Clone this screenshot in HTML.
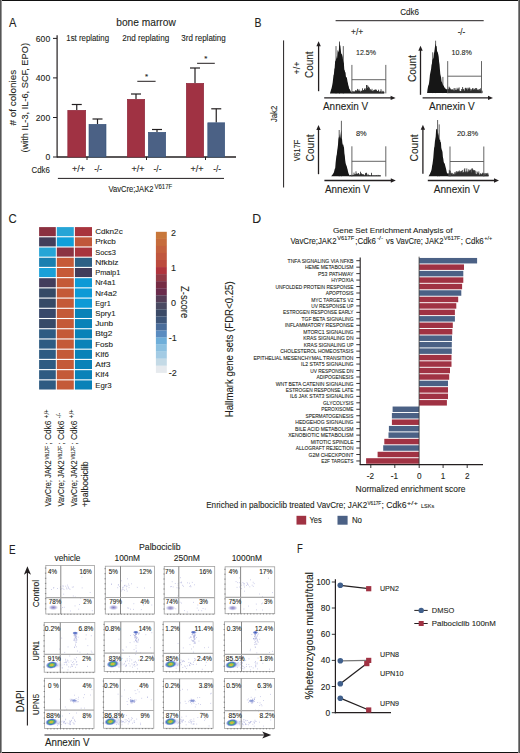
<!DOCTYPE html>
<html><head><meta charset="utf-8"><style>
html,body{margin:0;padding:0;background:#fff;}
svg{display:block;}
text{font-family:"Liberation Sans", sans-serif;fill:#231f20;stroke:#231f20;stroke-width:0.1px;}
</style></head><body>
<svg width="520" height="753" viewBox="0 0 520 753">
<rect width="520" height="753" fill="#fff"/>
<text x="8.90" y="27.00" font-size="12.4" textLength="7.40" lengthAdjust="spacingAndGlyphs" stroke-width="0.05">A</text>
<text x="146.00" y="26.30" font-size="10.5" text-anchor="middle" textLength="59.50" lengthAdjust="spacingAndGlyphs" >bone marrow</text>
<text x="66.30" y="41.40" font-size="8.3" textLength="42.70" lengthAdjust="spacingAndGlyphs" >1st replating</text>
<text x="122.30" y="41.40" font-size="8.3" textLength="46.90" lengthAdjust="spacingAndGlyphs" >2nd replating</text>
<text x="181.30" y="41.40" font-size="8.3" textLength="44.40" lengthAdjust="spacingAndGlyphs" >3rd replating</text>
<line x1="57.10" y1="35.20" x2="57.10" y2="157.50" stroke="#231f20" stroke-width="1.2"/>
<line x1="53.00" y1="38.40" x2="57.00" y2="38.40" stroke="#231f20" stroke-width="1"/>
<text x="50.20" y="41.50" font-size="8.6" text-anchor="end" >600</text>
<line x1="53.00" y1="77.90" x2="57.00" y2="77.90" stroke="#231f20" stroke-width="1"/>
<text x="50.20" y="81.00" font-size="8.6" text-anchor="end" >400</text>
<line x1="53.00" y1="117.50" x2="57.00" y2="117.50" stroke="#231f20" stroke-width="1"/>
<text x="50.20" y="120.60" font-size="8.6" text-anchor="end" >200</text>
<line x1="53.00" y1="157.00" x2="57.00" y2="157.00" stroke="#231f20" stroke-width="1"/>
<text x="50.20" y="160.10" font-size="8.6" text-anchor="end" >0</text>
<line x1="57.00" y1="157.00" x2="236.00" y2="157.00" stroke="#231f20" stroke-width="1.3"/>
<line x1="87.00" y1="157.00" x2="87.00" y2="160.00" stroke="#231f20" stroke-width="1"/>
<line x1="146.50" y1="157.00" x2="146.50" y2="160.00" stroke="#231f20" stroke-width="1"/>
<line x1="205.50" y1="157.00" x2="205.50" y2="160.00" stroke="#231f20" stroke-width="1"/>
<line x1="76.75" y1="110.00" x2="76.75" y2="104.50" stroke="#231f20" stroke-width="1.2"/>
<line x1="71.75" y1="104.50" x2="81.75" y2="104.50" stroke="#231f20" stroke-width="1.2"/>
<rect x="67.80" y="110.30" width="17.90" height="46.70" fill="#a03243" stroke="#8a2236" stroke-width="0.6"/>
<line x1="97.50" y1="124.00" x2="97.50" y2="119.00" stroke="#231f20" stroke-width="1.2"/>
<line x1="92.50" y1="119.00" x2="102.50" y2="119.00" stroke="#231f20" stroke-width="1.2"/>
<rect x="89.00" y="124.30" width="17.00" height="32.70" fill="#4b6185" stroke="#34507a" stroke-width="0.6"/>
<line x1="136.00" y1="99.00" x2="136.00" y2="94.00" stroke="#231f20" stroke-width="1.2"/>
<line x1="131.00" y1="94.00" x2="141.00" y2="94.00" stroke="#231f20" stroke-width="1.2"/>
<rect x="127.30" y="99.30" width="17.40" height="57.70" fill="#a03243" stroke="#8a2236" stroke-width="0.6"/>
<line x1="157.00" y1="132.00" x2="157.00" y2="129.50" stroke="#231f20" stroke-width="1.2"/>
<line x1="152.00" y1="129.50" x2="162.00" y2="129.50" stroke="#231f20" stroke-width="1.2"/>
<rect x="148.30" y="132.30" width="17.40" height="24.70" fill="#4b6185" stroke="#34507a" stroke-width="0.6"/>
<line x1="195.00" y1="83.00" x2="195.00" y2="68.00" stroke="#231f20" stroke-width="1.2"/>
<line x1="190.00" y1="68.00" x2="200.00" y2="68.00" stroke="#231f20" stroke-width="1.2"/>
<rect x="186.30" y="83.30" width="17.40" height="73.70" fill="#a03243" stroke="#8a2236" stroke-width="0.6"/>
<line x1="216.25" y1="122.50" x2="216.25" y2="108.80" stroke="#231f20" stroke-width="1.2"/>
<line x1="211.25" y1="108.80" x2="221.25" y2="108.80" stroke="#231f20" stroke-width="1.2"/>
<rect x="207.80" y="122.80" width="16.90" height="34.20" fill="#4b6185" stroke="#34507a" stroke-width="0.6"/>
<line x1="137.30" y1="81.30" x2="155.60" y2="81.30" stroke="#231f20" stroke-width="1"/>
<text x="146.50" y="78.50" font-size="8" text-anchor="middle" >*</text>
<line x1="197.10" y1="63.30" x2="214.80" y2="63.30" stroke="#231f20" stroke-width="1"/>
<text x="205.80" y="61.00" font-size="8" text-anchor="middle" >*</text>
<text x="31.50" y="173.00" font-size="8.6" textLength="18.30" lengthAdjust="spacingAndGlyphs" >Cdk6</text>
<text x="78.40" y="172.00" font-size="8.8" text-anchor="middle" textLength="13.00" lengthAdjust="spacingAndGlyphs" >+/+</text>
<text x="98.10" y="172.00" font-size="8.8" text-anchor="middle" textLength="7.80" lengthAdjust="spacingAndGlyphs" >-/-</text>
<text x="137.90" y="172.00" font-size="8.8" text-anchor="middle" textLength="13.00" lengthAdjust="spacingAndGlyphs" >+/+</text>
<text x="157.50" y="172.00" font-size="8.8" text-anchor="middle" textLength="7.80" lengthAdjust="spacingAndGlyphs" >-/-</text>
<text x="197.10" y="172.00" font-size="8.8" text-anchor="middle" textLength="13.00" lengthAdjust="spacingAndGlyphs" >+/+</text>
<text x="217.10" y="172.00" font-size="8.8" text-anchor="middle" textLength="7.80" lengthAdjust="spacingAndGlyphs" >-/-</text>
<line x1="57.90" y1="178.40" x2="224.00" y2="178.40" stroke="#231f20" stroke-width="1"/>
<text x="108.40" y="191.50" font-size="8.5" textLength="45.10" lengthAdjust="spacingAndGlyphs" >VavCre;JAK2</text>
<text x="154.40" y="189.00" font-size="6.6" textLength="17.80" lengthAdjust="spacingAndGlyphs" stroke-width="0.05" >V617F</text>
<text x="16.10" y="125.40" font-size="9.8" textLength="55.50" lengthAdjust="spacingAndGlyphs" transform="rotate(-90 16.10 125.40)" ># of colonies</text>
<text x="28.20" y="152.50" font-size="9.8" textLength="109.50" lengthAdjust="spacingAndGlyphs" transform="rotate(-90 28.20 152.50)" >(with IL-3, IL-6, SCF, EPO)</text>
<text x="254.50" y="27.00" font-size="12.4" textLength="7.00" lengthAdjust="spacingAndGlyphs" stroke-width="0.05">B</text>
<text x="400.20" y="15.00" font-size="8.4" textLength="18.80" lengthAdjust="spacingAndGlyphs" >Cdk6</text>
<line x1="335.60" y1="20.70" x2="483.70" y2="20.70" stroke="#231f20" stroke-width="1"/>
<text x="357.10" y="35.30" font-size="9.5" text-anchor="middle" textLength="12.20" lengthAdjust="spacingAndGlyphs" >+/+</text>
<text x="461.50" y="35.30" font-size="9.5" text-anchor="middle" textLength="7.70" lengthAdjust="spacingAndGlyphs" >-/-</text>
<line x1="283.60" y1="40.40" x2="283.60" y2="187.50" stroke="#231f20" stroke-width="1"/>
<text x="277.00" y="122.00" font-size="8.2" textLength="16.20" lengthAdjust="spacingAndGlyphs" transform="rotate(-90 277.00 122.00)" >Jak2</text>
<text x="300.20" y="74.40" font-size="9" textLength="13.00" lengthAdjust="spacingAndGlyphs" transform="rotate(-90 300.20 74.40)" >+/+</text>
<text x="299.80" y="161.30" font-size="8.2" textLength="21.50" lengthAdjust="spacingAndGlyphs" transform="rotate(-90 299.80 161.30)" >V617F</text>
<line x1="318.60" y1="91.20" x2="318.60" y2="45.20" stroke="#231f20" stroke-width="1.3"/>
<path d="M316.40 46.20 L318.60 41.20 L320.80 46.20 Z" fill="#231f20"/>
<line x1="324.20" y1="97.90" x2="391.60" y2="97.90" stroke="#231f20" stroke-width="1.3"/>
<path d="M390.60 95.70 L395.60 97.90 L390.60 100.10 Z" fill="#231f20"/>
<path d="M336.00 93.50V46.10M343.30 93.50V46.10M339.50 93.50V41.50" stroke="#3a3a3a" stroke-width="0.8"/>
<path d="M329.90 93.50 L329.90 93.50 L330.30 92.29 L330.70 91.05 L331.10 89.51 L331.50 88.38 L331.90 86.77 L332.30 84.64 L332.70 82.56 L333.10 78.69 L333.50 75.35 L333.90 74.23 L334.30 69.33 L334.70 67.67 L335.10 61.50 L335.50 61.00 L335.90 59.94 L336.30 55.70 L336.70 59.05 L337.10 57.89 L337.50 51.45 L337.90 49.70 L338.30 51.33 L338.70 52.42 L339.10 46.55 L339.50 41.72 L339.90 45.76 L340.30 45.24 L340.70 49.07 L341.10 52.65 L341.50 54.36 L341.90 54.06 L342.30 55.43 L342.70 57.02 L343.10 60.78 L343.50 62.33 L343.90 63.57 L344.30 69.51 L344.70 70.32 L345.10 72.23 L345.50 72.31 L345.90 76.46 L346.30 77.49 L346.70 77.03 L347.10 79.10 L347.50 81.43 L347.90 83.09 L348.30 85.19 L348.70 86.29 L349.10 88.49 L349.50 89.09 L349.90 89.61 L350.30 90.53 L350.70 91.39 L351.10 91.60 L351.50 91.73 L351.90 91.99 L352.00 93.50 Z" fill="#161616"/>
<path d="M352.00 93.50V92.31M352.50 93.50V91.15M353.00 93.50V92.09M353.50 93.50V91.28M354.00 93.50V91.77M354.50 93.50V91.52M355.00 93.50V91.41M355.50 93.50V90.22M356.00 93.50V90.65M356.50 93.50V90.54M357.00 93.50V91.24M357.50 93.50V88.91M358.00 93.50V89.99M358.50 93.50V90.89M359.00 93.50V89.30M359.50 93.50V90.81M360.00 93.50V90.89M360.50 93.50V92.10M361.00 93.50V90.69M361.50 93.50V90.80M362.00 93.50V91.07M362.50 93.50V88.30M363.00 93.50V90.40M363.50 93.50V90.14M364.00 93.50V90.09M364.50 93.50V88.95M365.00 93.50V88.02M365.50 93.50V90.00M366.00 93.50V88.93M366.50 93.50V85.02M367.00 93.50V85.04M367.50 93.50V87.95M368.00 93.50V85.81M368.50 93.50V87.05M369.00 93.50V88.74M369.50 93.50V87.57M370.00 93.50V90.36M370.50 93.50V89.22M371.00 93.50V90.50M371.50 93.50V90.38M372.00 93.50V88.84M372.50 93.50V90.87M373.00 93.50V91.55M373.50 93.50V90.48M374.00 93.50V90.02M374.50 93.50V90.12M375.00 93.50V89.45M375.50 93.50V89.62M376.00 93.50V90.31M376.50 93.50V89.69M377.00 93.50V91.01M377.50 93.50V91.02M378.00 93.50V91.32M378.50 93.50V89.73M379.00 93.50V90.85M379.50 93.50V91.89M380.00 93.50V91.89M380.50 93.50V91.23M381.00 93.50V89.22M381.50 93.50V92.30M382.00 93.50V90.90M382.50 93.50V92.10M383.00 93.50V90.88M383.50 93.50V91.59M384.00 93.50V91.83" stroke="#141414" stroke-width="0.75"/>
<line x1="351.90" y1="64.90" x2="351.90" y2="93.40" stroke="#555" stroke-width="0.9"/>
<line x1="385.80" y1="64.90" x2="385.80" y2="93.40" stroke="#555" stroke-width="0.9"/>
<line x1="351.90" y1="79.70" x2="385.80" y2="79.70" stroke="#555" stroke-width="0.9"/>
<text x="356.00" y="55.20" font-size="7.5" textLength="20.00" lengthAdjust="spacingAndGlyphs" >12.5%</text>
<text x="313.30" y="78.00" font-size="10" textLength="26.50" lengthAdjust="spacingAndGlyphs" transform="rotate(-90 313.30 78.00)" >Count</text>
<text x="323.00" y="110.00" font-size="10" textLength="45.20" lengthAdjust="spacingAndGlyphs" >Annexin V</text>
<line x1="420.50" y1="94.80" x2="420.50" y2="49.80" stroke="#231f20" stroke-width="1.3"/>
<path d="M418.30 50.80 L420.50 45.80 L422.70 50.80 Z" fill="#231f20"/>
<line x1="422.60" y1="97.90" x2="489.00" y2="97.90" stroke="#231f20" stroke-width="1.3"/>
<path d="M488.00 95.70 L493.00 97.90 L488.00 100.10 Z" fill="#231f20"/>
<path d="M432.70 93.10V52.30M435.60 93.10V40.70M442.90 93.10V76.90" stroke="#3a3a3a" stroke-width="0.8"/>
<path d="M427.10 93.10 L427.10 93.10 L427.50 89.56 L427.90 87.18 L428.30 85.39 L428.70 84.67 L429.10 82.52 L429.50 79.22 L429.90 75.01 L430.30 72.96 L430.70 70.99 L431.10 68.91 L431.50 65.09 L431.90 63.71 L432.30 60.45 L432.70 59.25 L433.10 58.86 L433.50 57.47 L433.90 53.73 L434.30 51.87 L434.70 49.01 L435.10 45.50 L435.50 43.54 L435.90 46.60 L436.30 45.78 L436.70 46.54 L437.10 52.00 L437.50 51.14 L437.90 53.12 L438.30 54.40 L438.70 56.65 L439.10 61.68 L439.50 64.21 L439.90 69.13 L440.30 73.99 L440.70 75.83 L441.10 77.59 L441.50 81.22 L441.90 82.02 L442.30 82.92 L442.70 84.21 L443.10 85.00 L443.50 85.84 L443.90 85.95 L444.30 87.26 L444.70 87.83 L445.10 87.76 L445.50 88.63 L445.90 88.89 L446.30 89.03 L446.70 89.38 L447.10 89.66 L447.10 93.10 Z" fill="#161616"/>
<path d="M447.10 93.10V89.39M447.60 93.10V89.39M448.10 93.10V88.78M448.60 93.10V89.26M449.10 93.10V86.69M449.60 93.10V87.65M450.10 93.10V88.18M450.60 93.10V89.20M451.10 93.10V89.39M451.60 93.10V89.85M452.10 93.10V89.14M452.60 93.10V89.79M453.10 93.10V89.53M453.60 93.10V90.41M454.10 93.10V88.10M454.60 93.10V90.51M455.10 93.10V88.28M455.60 93.10V89.94M456.10 93.10V90.36M456.60 93.10V89.68M457.10 93.10V87.81M457.60 93.10V89.13M458.10 93.10V90.14M458.60 93.10V88.49M459.10 93.10V87.41M459.60 93.10V90.69M460.10 93.10V90.97M460.60 93.10V91.13M461.10 93.10V91.14M461.60 93.10V89.06M462.10 93.10V90.64M462.60 93.10V87.05M463.10 93.10V88.91M463.60 93.10V89.19M464.10 93.10V90.56M464.60 93.10V90.73M465.10 93.10V88.39M465.60 93.10V87.84M466.10 93.10V87.87M466.60 93.10V89.07M467.10 93.10V88.40M467.60 93.10V90.24M468.10 93.10V87.64M468.60 93.10V88.63M469.10 93.10V88.90M469.60 93.10V87.50M470.10 93.10V88.73M470.60 93.10V90.68M471.10 93.10V89.29M471.60 93.10V90.37M472.10 93.10V89.06M472.60 93.10V88.18M473.10 93.10V88.27M473.60 93.10V89.84M474.10 93.10V89.43M474.60 93.10V88.76M475.10 93.10V90.14M475.60 93.10V88.03M476.10 93.10V89.24M476.60 93.10V87.99M477.10 93.10V90.15M477.60 93.10V89.81M478.10 93.10V89.14M478.60 93.10V90.08M479.10 93.10V90.60M479.60 93.10V88.97M480.10 93.10V90.39M480.60 93.10V88.31M481.10 93.10V90.31M481.60 93.10V91.27M482.10 93.10V90.68" stroke="#141414" stroke-width="0.75"/>
<line x1="447.70" y1="61.10" x2="447.70" y2="93.10" stroke="#555" stroke-width="0.9"/>
<line x1="481.50" y1="61.10" x2="481.50" y2="93.10" stroke="#555" stroke-width="0.9"/>
<line x1="447.70" y1="76.20" x2="481.50" y2="76.20" stroke="#555" stroke-width="0.9"/>
<text x="451.50" y="54.90" font-size="7.5" textLength="20.30" lengthAdjust="spacingAndGlyphs" >10.8%</text>
<text x="416.00" y="82.10" font-size="10" textLength="26.90" lengthAdjust="spacingAndGlyphs" transform="rotate(-90 416.00 82.10)" >Count</text>
<text x="429.00" y="110.00" font-size="10" textLength="45.80" lengthAdjust="spacingAndGlyphs" >Annexin V</text>
<line x1="318.50" y1="174.20" x2="318.50" y2="129.00" stroke="#231f20" stroke-width="1.3"/>
<path d="M316.30 130.00 L318.50 125.00 L320.70 130.00 Z" fill="#231f20"/>
<line x1="324.40" y1="180.50" x2="391.80" y2="180.50" stroke="#231f20" stroke-width="1.3"/>
<path d="M390.80 178.30 L395.80 180.50 L390.80 182.70 Z" fill="#231f20"/>
<path d="M339.20 176.30V130.00M341.40 176.30V120.80" stroke="#3a3a3a" stroke-width="0.8"/>
<path d="M331.20 176.30 L331.20 176.30 L331.60 175.78 L332.00 175.23 L332.40 174.76 L332.80 174.25 L333.20 173.50 L333.60 172.91 L334.00 172.04 L334.40 170.19 L334.80 168.73 L335.20 168.37 L335.60 162.91 L336.00 159.26 L336.40 156.10 L336.80 154.59 L337.20 150.61 L337.60 147.98 L338.00 144.71 L338.40 139.30 L338.80 137.23 L339.20 137.28 L339.60 133.85 L340.00 138.85 L340.40 136.49 L340.80 133.23 L341.20 129.98 L341.60 138.52 L342.00 138.80 L342.40 143.04 L342.80 144.67 L343.20 144.52 L343.60 146.37 L344.00 147.59 L344.40 153.19 L344.80 155.73 L345.20 160.28 L345.60 163.06 L346.00 164.60 L346.40 165.50 L346.80 166.46 L347.20 168.33 L347.60 169.43 L348.00 171.44 L348.40 173.06 L348.80 174.02 L349.20 174.85 L349.50 176.30 Z" fill="#161616"/>
<path d="M349.50 176.30V175.33M350.00 176.30V175.13M350.50 176.30V175.04M351.00 176.30V174.89M351.50 176.30V175.05M352.00 176.30V174.88M352.50 176.30V174.84M353.00 176.30V175.00M353.50 176.30V174.89M354.00 176.30V172.65M354.50 176.30V174.53M355.00 176.30V174.13M355.50 176.30V174.25M356.00 176.30V171.32M356.50 176.30V173.53M357.00 176.30V174.08M357.50 176.30V174.09M358.00 176.30V173.21M358.50 176.30V173.09M359.00 176.30V174.68M359.50 176.30V174.70M360.00 176.30V173.89M360.50 176.30V171.71M361.00 176.30V174.22M361.50 176.30V173.31M362.00 176.30V174.30M362.50 176.30V174.24M363.00 176.30V174.57M363.50 176.30V174.29M364.00 176.30V175.02M364.50 176.30V175.31M365.00 176.30V174.65M365.50 176.30V173.27M366.00 176.30V172.87M366.50 176.30V172.81M367.00 176.30V175.22M367.50 176.30V175.33M368.00 176.30V173.87M368.50 176.30V175.04M369.00 176.30V175.42M369.50 176.30V175.12M370.00 176.30V175.32M370.50 176.30V175.32M371.00 176.30V175.38M371.50 176.30V172.82M372.00 176.30V174.99M372.50 176.30V175.44M373.00 176.30V175.43M373.50 176.30V175.26M374.00 176.30V175.50M374.50 176.30V175.35M375.00 176.30V175.25M375.50 176.30V175.49M376.00 176.30V175.07M376.50 176.30V175.24M377.00 176.30V175.50M377.50 176.30V175.47M378.00 176.30V174.90M378.50 176.30V175.39M379.00 176.30V175.08M379.50 176.30V175.34M380.00 176.30V175.38M380.50 176.30V175.40" stroke="#141414" stroke-width="0.75"/>
<line x1="351.90" y1="146.30" x2="351.90" y2="176.50" stroke="#555" stroke-width="0.9"/>
<line x1="385.80" y1="146.30" x2="385.80" y2="176.50" stroke="#555" stroke-width="0.9"/>
<line x1="351.90" y1="161.30" x2="385.80" y2="161.30" stroke="#555" stroke-width="0.9"/>
<text x="356.00" y="135.80" font-size="7.5" textLength="10.70" lengthAdjust="spacingAndGlyphs" >8%</text>
<text x="313.80" y="161.40" font-size="10" textLength="27.00" lengthAdjust="spacingAndGlyphs" transform="rotate(-90 313.80 161.40)" >Count</text>
<text x="324.90" y="193.00" font-size="10" textLength="44.90" lengthAdjust="spacingAndGlyphs" >Annexin V</text>
<line x1="422.90" y1="173.80" x2="422.90" y2="128.80" stroke="#231f20" stroke-width="1.3"/>
<path d="M420.70 129.80 L422.90 124.80 L425.10 129.80 Z" fill="#231f20"/>
<line x1="427.80" y1="180.50" x2="495.00" y2="180.50" stroke="#231f20" stroke-width="1.3"/>
<path d="M494.00 178.30 L499.00 180.50 L494.00 182.70 Z" fill="#231f20"/>
<path d="M437.60 176.30V120.00M439.20 176.30V124.40" stroke="#3a3a3a" stroke-width="0.8"/>
<path d="M428.50 176.30 L428.50 176.30 L428.90 175.63 L429.30 175.02 L429.70 174.31 L430.10 173.47 L430.50 172.42 L430.90 171.64 L431.30 170.43 L431.70 168.99 L432.10 165.85 L432.50 164.03 L432.90 161.06 L433.30 157.72 L433.70 152.52 L434.10 147.89 L434.50 146.31 L434.90 141.56 L435.30 138.98 L435.70 136.48 L436.10 129.82 L436.50 128.78 L436.90 129.37 L437.30 129.50 L437.70 132.94 L438.10 135.58 L438.50 132.46 L438.90 137.46 L439.30 139.38 L439.70 139.90 L440.10 139.51 L440.50 142.51 L440.90 141.79 L441.30 147.71 L441.70 149.58 L442.10 150.43 L442.50 151.95 L442.90 156.97 L443.30 158.67 L443.70 161.87 L444.10 162.90 L444.50 163.28 L444.90 164.28 L445.30 165.94 L445.70 167.43 L446.10 168.91 L446.50 170.89 L446.90 172.73 L447.30 172.93 L447.70 173.61 L448.10 174.46 L448.30 176.30 Z" fill="#161616"/>
<path d="M448.30 176.30V174.05M448.80 176.30V172.98M449.30 176.30V169.88M449.80 176.30V171.21M450.30 176.30V170.70M450.80 176.30V172.89M451.30 176.30V173.77M451.80 176.30V172.82M452.30 176.30V174.62M452.80 176.30V173.13M453.30 176.30V174.18M453.80 176.30V174.24M454.30 176.30V174.46M454.80 176.30V172.28M455.30 176.30V172.43M455.80 176.30V174.15M456.30 176.30V171.11M456.80 176.30V172.51M457.30 176.30V171.46M457.80 176.30V172.35M458.30 176.30V171.49M458.80 176.30V171.51M459.30 176.30V170.46M459.80 176.30V172.16M460.30 176.30V171.23M460.80 176.30V172.44M461.30 176.30V170.99M461.80 176.30V171.34M462.30 176.30V169.98M462.80 176.30V172.82M463.30 176.30V171.90M463.80 176.30V172.42M464.30 176.30V169.39M464.80 176.30V168.24M465.30 176.30V171.58M465.80 176.30V172.48M466.30 176.30V171.37M466.80 176.30V168.46M467.30 176.30V172.44M467.80 176.30V171.47M468.30 176.30V171.63M468.80 176.30V169.30M469.30 176.30V170.32M469.80 176.30V171.12M470.30 176.30V170.00M470.80 176.30V169.52M471.30 176.30V172.40M471.80 176.30V168.65M472.30 176.30V168.33M472.80 176.30V169.64M473.30 176.30V169.88M473.80 176.30V170.69M474.30 176.30V170.43M474.80 176.30V170.05M475.30 176.30V173.52M475.80 176.30V171.12M476.30 176.30V174.13M476.80 176.30V174.12M477.30 176.30V171.69M477.80 176.30V173.27M478.30 176.30V173.15M478.80 176.30V171.46M479.30 176.30V174.75M479.80 176.30V174.56M480.30 176.30V173.22M480.80 176.30V173.70M481.30 176.30V174.40M481.80 176.30V174.14M482.30 176.30V173.25M482.80 176.30V172.68M483.30 176.30V173.61M483.80 176.30V173.07M484.30 176.30V174.52M484.80 176.30V173.26M485.30 176.30V174.78M485.80 176.30V173.14M486.30 176.30V173.71M486.80 176.30V173.23M487.30 176.30V174.33M487.80 176.30V172.87M488.30 176.30V174.57" stroke="#141414" stroke-width="0.75"/>
<line x1="450.00" y1="146.50" x2="450.00" y2="176.50" stroke="#555" stroke-width="0.9"/>
<line x1="483.80" y1="146.50" x2="483.80" y2="176.50" stroke="#555" stroke-width="0.9"/>
<line x1="450.00" y1="161.50" x2="483.80" y2="161.50" stroke="#555" stroke-width="0.9"/>
<text x="456.90" y="135.70" font-size="7.5" textLength="21.30" lengthAdjust="spacingAndGlyphs" >20.8%</text>
<text x="417.70" y="161.40" font-size="10" textLength="27.00" lengthAdjust="spacingAndGlyphs" transform="rotate(-90 417.70 161.40)" >Count</text>
<text x="433.80" y="193.00" font-size="10" textLength="45.80" lengthAdjust="spacingAndGlyphs" >Annexin V</text>
<text x="8.50" y="223.10" font-size="12.6" textLength="8.20" lengthAdjust="spacingAndGlyphs" stroke-width="0.05">C</text>
<rect x="39.10" y="227.10" width="16.70" height="9.10" fill="#8b3040" />
<rect x="56.80" y="227.10" width="17.00" height="9.10" fill="#26a5d6" />
<rect x="74.90" y="227.10" width="17.10" height="9.10" fill="#a8343d" />
<text x="95.20" y="234.20" font-size="8" textLength="27.50" lengthAdjust="spacingAndGlyphs" >Cdkn2c</text>
<rect x="39.10" y="237.32" width="16.70" height="9.10" fill="#433e5a" />
<rect x="56.80" y="237.32" width="17.00" height="9.10" fill="#109fd9" />
<rect x="74.90" y="237.32" width="17.10" height="9.10" fill="#c0573a" />
<text x="95.20" y="244.42" font-size="8" textLength="20.60" lengthAdjust="spacingAndGlyphs" >Prkcb</text>
<rect x="39.10" y="247.54" width="16.70" height="9.10" fill="#26a5d6" />
<rect x="56.80" y="247.54" width="17.00" height="9.10" fill="#8b3343" />
<rect x="74.90" y="247.54" width="17.10" height="9.10" fill="#a8343d" />
<text x="95.20" y="254.64" font-size="8" textLength="20.60" lengthAdjust="spacingAndGlyphs" >Socs3</text>
<rect x="39.10" y="257.76" width="16.70" height="9.10" fill="#1a7fb0" />
<rect x="56.80" y="257.76" width="17.00" height="9.10" fill="#c65a38" />
<rect x="74.90" y="257.76" width="17.10" height="9.10" fill="#2d6085" />
<text x="95.20" y="264.86" font-size="8" textLength="23.30" lengthAdjust="spacingAndGlyphs" >Nfkbiz</text>
<rect x="39.10" y="267.98" width="16.70" height="9.10" fill="#1aa0d8" />
<rect x="56.80" y="267.98" width="17.00" height="9.10" fill="#c65a38" />
<rect x="74.90" y="267.98" width="17.10" height="9.10" fill="#423c5a" />
<text x="95.20" y="275.08" font-size="8" textLength="25.20" lengthAdjust="spacingAndGlyphs" >Pmaip1</text>
<rect x="39.10" y="278.20" width="16.70" height="9.10" fill="#433d5c" />
<rect x="56.80" y="278.20" width="17.00" height="9.10" fill="#c45a38" />
<rect x="74.90" y="278.20" width="17.10" height="9.10" fill="#0e9ad6" />
<text x="95.20" y="285.30" font-size="8" textLength="20.40" lengthAdjust="spacingAndGlyphs" >Nr4a1</text>
<rect x="39.10" y="288.42" width="16.70" height="9.10" fill="#354a66" />
<rect x="56.80" y="288.42" width="17.00" height="9.10" fill="#c45a38" />
<rect x="74.90" y="288.42" width="17.10" height="9.10" fill="#0e9ad6" />
<text x="95.20" y="295.52" font-size="8" textLength="21.70" lengthAdjust="spacingAndGlyphs" >Nr4a2</text>
<rect x="39.10" y="298.64" width="16.70" height="9.10" fill="#364a66" />
<rect x="56.80" y="298.64" width="17.00" height="9.10" fill="#c45a38" />
<rect x="74.90" y="298.64" width="17.10" height="9.10" fill="#0e9ad6" />
<text x="95.20" y="305.74" font-size="8" textLength="15.60" lengthAdjust="spacingAndGlyphs" >Egr1</text>
<rect x="39.10" y="308.86" width="16.70" height="9.10" fill="#37486a" />
<rect x="56.80" y="308.86" width="17.00" height="9.10" fill="#c45a38" />
<rect x="74.90" y="308.86" width="17.10" height="9.10" fill="#0a82b8" />
<text x="95.20" y="315.96" font-size="8" textLength="20.40" lengthAdjust="spacingAndGlyphs" >Spry1</text>
<rect x="39.10" y="319.08" width="16.70" height="9.10" fill="#374a68" />
<rect x="56.80" y="319.08" width="17.00" height="9.10" fill="#c45a38" />
<rect x="74.90" y="319.08" width="17.10" height="9.10" fill="#0a82b8" />
<text x="95.20" y="326.18" font-size="8" textLength="17.90" lengthAdjust="spacingAndGlyphs" >Junb</text>
<rect x="39.10" y="329.30" width="16.70" height="9.10" fill="#2e5b82" />
<rect x="56.80" y="329.30" width="17.00" height="9.10" fill="#c45a38" />
<rect x="74.90" y="329.30" width="17.10" height="9.10" fill="#0a82b8" />
<text x="95.20" y="336.40" font-size="8" textLength="17.10" lengthAdjust="spacingAndGlyphs" >Btg2</text>
<rect x="39.10" y="339.52" width="16.70" height="9.10" fill="#2e5b82" />
<rect x="56.80" y="339.52" width="17.00" height="9.10" fill="#c45a38" />
<rect x="74.90" y="339.52" width="17.10" height="9.10" fill="#0a82b8" />
<text x="95.20" y="346.62" font-size="8" textLength="17.90" lengthAdjust="spacingAndGlyphs" >Fosb</text>
<rect x="39.10" y="349.74" width="16.70" height="9.10" fill="#2e5b82" />
<rect x="56.80" y="349.74" width="17.00" height="9.10" fill="#c45a38" />
<rect x="74.90" y="349.74" width="17.10" height="9.10" fill="#0a82b8" />
<text x="95.20" y="356.84" font-size="8" textLength="13.60" lengthAdjust="spacingAndGlyphs" >Klf6</text>
<rect x="39.10" y="359.96" width="16.70" height="9.10" fill="#2e5b82" />
<rect x="56.80" y="359.96" width="17.00" height="9.10" fill="#c45a38" />
<rect x="74.90" y="359.96" width="17.10" height="9.10" fill="#0a82b8" />
<text x="95.20" y="367.06" font-size="8" textLength="15.20" lengthAdjust="spacingAndGlyphs" >Atf3</text>
<rect x="39.10" y="370.18" width="16.70" height="9.10" fill="#2e5b82" />
<rect x="56.80" y="370.18" width="17.00" height="9.10" fill="#c45a38" />
<rect x="74.90" y="370.18" width="17.10" height="9.10" fill="#0a82b8" />
<text x="95.20" y="377.28" font-size="8" textLength="13.60" lengthAdjust="spacingAndGlyphs" >Klf4</text>
<rect x="39.10" y="380.40" width="16.70" height="9.10" fill="#2e5b82" />
<rect x="56.80" y="380.40" width="17.00" height="9.10" fill="#c45a38" />
<rect x="74.90" y="380.40" width="17.10" height="9.10" fill="#0a82b8" />
<text x="95.20" y="387.50" font-size="8" textLength="16.50" lengthAdjust="spacingAndGlyphs" >Egr3</text>
<rect x="155.90" y="231.80" width="10.90" height="7.15" fill="#c8773a" />
<rect x="155.90" y="238.85" width="10.90" height="7.15" fill="#c66c3c" />
<rect x="155.90" y="245.90" width="10.90" height="7.15" fill="#c4613e" />
<rect x="155.90" y="252.95" width="10.90" height="7.15" fill="#c0573e" />
<rect x="155.90" y="260.00" width="10.90" height="7.15" fill="#bc4b3e" />
<rect x="155.90" y="267.05" width="10.90" height="7.15" fill="#b0343d" />
<rect x="155.90" y="274.10" width="10.90" height="7.15" fill="#923a46" />
<rect x="155.90" y="281.15" width="10.90" height="7.15" fill="#762c44" />
<rect x="155.90" y="288.20" width="10.90" height="7.15" fill="#6a2c4c" />
<rect x="155.90" y="295.25" width="10.90" height="7.15" fill="#553e58" />
<rect x="155.90" y="302.30" width="10.90" height="7.15" fill="#4a4a62" />
<rect x="155.90" y="309.35" width="10.90" height="7.15" fill="#3b4a66" />
<rect x="155.90" y="316.40" width="10.90" height="7.15" fill="#3e5679" />
<rect x="155.90" y="323.45" width="10.90" height="7.15" fill="#4a6d9a" />
<rect x="155.90" y="330.50" width="10.90" height="7.15" fill="#5a8cc0" />
<rect x="155.90" y="337.55" width="10.90" height="7.15" fill="#6eaed9" />
<rect x="155.90" y="344.60" width="10.90" height="7.15" fill="#8cc0e0" />
<rect x="155.90" y="351.65" width="10.90" height="7.15" fill="#a3cbe4" />
<rect x="155.90" y="358.70" width="10.90" height="7.15" fill="#c4dae6" />
<rect x="155.90" y="365.75" width="10.90" height="7.15" fill="#e6eaee" />
<text x="171.10" y="235.70" font-size="9" >2</text>
<text x="171.10" y="270.50" font-size="9" >1</text>
<text x="171.10" y="305.80" font-size="9" >0</text>
<text x="168.80" y="341.10" font-size="9" >-1</text>
<text x="168.80" y="376.20" font-size="9" >-2</text>
<text x="180.90" y="286.00" font-size="11" textLength="32.30" lengthAdjust="spacingAndGlyphs" transform="rotate(90 180.90 286.00)" >Z-score</text>
<text x="51.20" y="506.40" font-size="8.6" textLength="46.10" lengthAdjust="spacingAndGlyphs" transform="rotate(-90 51.20 506.40)" >VavCre; JAK2</text>
<text x="49.30" y="459.60" font-size="5.6" textLength="13.80" lengthAdjust="spacingAndGlyphs" stroke-width="0.05" transform="rotate(-90 49.30 459.60)" >V617F</text>
<text x="51.20" y="444.60" font-size="8.6" textLength="24.00" lengthAdjust="spacingAndGlyphs" transform="rotate(-90 51.20 444.60)" >; Cdk6</text>
<text x="49.00" y="418.20" font-size="6.8" textLength="8.90" lengthAdjust="spacingAndGlyphs" stroke-width="0.05" transform="rotate(-90 49.00 418.20)" >+/+</text>
<text x="63.70" y="506.40" font-size="8.6" textLength="46.10" lengthAdjust="spacingAndGlyphs" transform="rotate(-90 63.70 506.40)" >VavCre; JAK2</text>
<text x="61.80" y="459.60" font-size="5.6" textLength="13.80" lengthAdjust="spacingAndGlyphs" stroke-width="0.05" transform="rotate(-90 61.80 459.60)" >V617F</text>
<text x="63.70" y="444.60" font-size="8.6" textLength="24.00" lengthAdjust="spacingAndGlyphs" transform="rotate(-90 63.70 444.60)" >; Cdk6</text>
<text x="61.50" y="418.20" font-size="6.8" textLength="5.50" lengthAdjust="spacingAndGlyphs" stroke-width="0.05" transform="rotate(-90 61.50 418.20)" >-/-</text>
<text x="76.60" y="506.40" font-size="8.6" textLength="46.10" lengthAdjust="spacingAndGlyphs" transform="rotate(-90 76.60 506.40)" >VavCre; JAK2</text>
<text x="74.70" y="459.60" font-size="5.6" textLength="13.80" lengthAdjust="spacingAndGlyphs" stroke-width="0.05" transform="rotate(-90 74.70 459.60)" >V617F</text>
<text x="76.60" y="444.60" font-size="8.6" textLength="24.00" lengthAdjust="spacingAndGlyphs" transform="rotate(-90 76.60 444.60)" >; Cdk6</text>
<text x="74.40" y="418.20" font-size="6.8" textLength="8.90" lengthAdjust="spacingAndGlyphs" stroke-width="0.05" transform="rotate(-90 74.40 418.20)" >+/+</text>
<text x="88.20" y="507.30" font-size="8.6" textLength="45.90" lengthAdjust="spacingAndGlyphs" transform="rotate(-90 88.20 507.30)" >+palbociclib</text>
<text x="252.20" y="222.60" font-size="12.2" textLength="8.90" lengthAdjust="spacingAndGlyphs" stroke-width="0.05">D</text>
<text x="333.00" y="232.60" font-size="7.8" textLength="119.60" lengthAdjust="spacingAndGlyphs" >Gene Set Enrichment Analysis of</text>
<text x="290.50" y="243.50" font-size="8.5" textLength="46.00" lengthAdjust="spacingAndGlyphs" >VavCre;JAK2</text>
<text x="337.30" y="240.20" font-size="6" textLength="16.90" lengthAdjust="spacingAndGlyphs" stroke-width="0.05" >V617F</text>
<text x="355.30" y="243.50" font-size="8.5" textLength="20.70" lengthAdjust="spacingAndGlyphs" >;Cdk6</text>
<text x="376.90" y="240.20" font-size="6" textLength="6.30" lengthAdjust="spacingAndGlyphs" stroke-width="0.05" >-/-</text>
<text x="386.10" y="243.50" font-size="8.5" textLength="57.30" lengthAdjust="spacingAndGlyphs" >vs VavCre; JAK2</text>
<text x="443.80" y="240.20" font-size="6" textLength="16.50" lengthAdjust="spacingAndGlyphs" stroke-width="0.05" >V617F</text>
<text x="460.80" y="243.50" font-size="8.5" textLength="23.00" lengthAdjust="spacingAndGlyphs" >; Cdk6</text>
<text x="484.30" y="240.20" font-size="6" textLength="8.00" lengthAdjust="spacingAndGlyphs" stroke-width="0.05" >+/+</text>
<text x="232.90" y="417.20" font-size="10.5" textLength="135.90" lengthAdjust="spacingAndGlyphs" transform="rotate(-90 232.90 417.20)" >Hallmark gene sets (FDR&lt;0.25)</text>
<rect x="419.10" y="257.95" width="58.00" height="5.50" fill="#4b6185" />
<text x="353.50" y="262.80" font-size="6" text-anchor="end" textLength="65.90" lengthAdjust="spacingAndGlyphs" stroke-width="0.05" >TNFA SIGNALING VIA NFKB</text>
<line x1="356.30" y1="260.70" x2="360.00" y2="260.70" stroke="#231f20" stroke-width="0.9"/>
<rect x="419.10" y="264.41" width="44.90" height="5.50" fill="#a03243" />
<text x="353.50" y="269.26" font-size="6" text-anchor="end" textLength="48.60" lengthAdjust="spacingAndGlyphs" stroke-width="0.05" >HEME METABOLISM</text>
<line x1="356.30" y1="267.16" x2="360.00" y2="267.16" stroke="#231f20" stroke-width="0.9"/>
<rect x="419.10" y="270.87" width="44.20" height="5.50" fill="#4b6185" />
<text x="353.50" y="275.72" font-size="6" text-anchor="end" textLength="35.40" lengthAdjust="spacingAndGlyphs" stroke-width="0.05" >P53 PATHWAY</text>
<line x1="356.30" y1="273.62" x2="360.00" y2="273.62" stroke="#231f20" stroke-width="0.9"/>
<rect x="419.10" y="277.33" width="44.20" height="5.50" fill="#a03243" />
<text x="353.50" y="282.18" font-size="6" text-anchor="end" textLength="22.30" lengthAdjust="spacingAndGlyphs" stroke-width="0.05" >HYPOXIA</text>
<line x1="356.30" y1="280.08" x2="360.00" y2="280.08" stroke="#231f20" stroke-width="0.9"/>
<rect x="419.10" y="283.79" width="43.00" height="5.50" fill="#a03243" />
<text x="353.50" y="288.64" font-size="6" text-anchor="end" textLength="78.10" lengthAdjust="spacingAndGlyphs" stroke-width="0.05" >UNFOLDED PROTEIN RESPONSE</text>
<line x1="356.30" y1="286.54" x2="360.00" y2="286.54" stroke="#231f20" stroke-width="0.9"/>
<rect x="419.10" y="290.25" width="42.20" height="5.50" fill="#4b6185" />
<text x="353.50" y="295.10" font-size="6" text-anchor="end" textLength="27.80" lengthAdjust="spacingAndGlyphs" stroke-width="0.05" >APOPTOSIS</text>
<line x1="356.30" y1="293.00" x2="360.00" y2="293.00" stroke="#231f20" stroke-width="0.9"/>
<rect x="419.10" y="296.71" width="39.10" height="5.50" fill="#a03243" />
<text x="353.50" y="301.56" font-size="6" text-anchor="end" textLength="42.30" lengthAdjust="spacingAndGlyphs" stroke-width="0.05" >MYC TARGETS V2</text>
<line x1="356.30" y1="299.46" x2="360.00" y2="299.46" stroke="#231f20" stroke-width="0.9"/>
<rect x="419.10" y="303.17" width="37.20" height="5.50" fill="#a03243" />
<text x="353.50" y="308.02" font-size="6" text-anchor="end" textLength="42.30" lengthAdjust="spacingAndGlyphs" stroke-width="0.05" >UV RESPONSE UP</text>
<line x1="356.30" y1="305.92" x2="360.00" y2="305.92" stroke="#231f20" stroke-width="0.9"/>
<rect x="419.10" y="309.63" width="35.80" height="5.50" fill="#a03243" />
<text x="353.50" y="314.48" font-size="6" text-anchor="end" textLength="70.40" lengthAdjust="spacingAndGlyphs" stroke-width="0.05" >ESTROGEN RESPONSE EARLY</text>
<line x1="356.30" y1="312.38" x2="360.00" y2="312.38" stroke="#231f20" stroke-width="0.9"/>
<rect x="419.10" y="316.09" width="35.80" height="5.50" fill="#4b6185" />
<text x="353.50" y="320.94" font-size="6" text-anchor="end" textLength="52.00" lengthAdjust="spacingAndGlyphs" stroke-width="0.05" >TGF BETA SIGNALING</text>
<line x1="356.30" y1="318.84" x2="360.00" y2="318.84" stroke="#231f20" stroke-width="0.9"/>
<rect x="419.10" y="322.55" width="33.70" height="5.50" fill="#a03243" />
<text x="353.50" y="327.40" font-size="6" text-anchor="end" textLength="68.60" lengthAdjust="spacingAndGlyphs" stroke-width="0.05" >INFLAMMATORY RESPONSE</text>
<line x1="356.30" y1="325.30" x2="360.00" y2="325.30" stroke="#231f20" stroke-width="0.9"/>
<rect x="419.10" y="329.01" width="33.20" height="5.50" fill="#a03243" />
<text x="353.50" y="333.86" font-size="6" text-anchor="end" textLength="50.30" lengthAdjust="spacingAndGlyphs" stroke-width="0.05" >MTORC1 SIGNALING</text>
<line x1="356.30" y1="331.76" x2="360.00" y2="331.76" stroke="#231f20" stroke-width="0.9"/>
<rect x="419.10" y="335.47" width="32.90" height="5.50" fill="#4b6185" />
<text x="353.50" y="340.32" font-size="6" text-anchor="end" textLength="50.30" lengthAdjust="spacingAndGlyphs" stroke-width="0.05" >KRAS SIGNALING DN</text>
<line x1="356.30" y1="338.22" x2="360.00" y2="338.22" stroke="#231f20" stroke-width="0.9"/>
<rect x="419.10" y="341.93" width="32.70" height="5.50" fill="#4b6185" />
<text x="353.50" y="346.78" font-size="6" text-anchor="end" textLength="49.70" lengthAdjust="spacingAndGlyphs" stroke-width="0.05" >KRAS SIGNALING UP</text>
<line x1="356.30" y1="344.68" x2="360.00" y2="344.68" stroke="#231f20" stroke-width="0.9"/>
<rect x="419.10" y="348.39" width="32.70" height="5.50" fill="#4b6185" />
<text x="353.50" y="353.24" font-size="6" text-anchor="end" textLength="73.20" lengthAdjust="spacingAndGlyphs" stroke-width="0.05" >CHOLESTEROL HOMEOSTASIS</text>
<line x1="356.30" y1="351.14" x2="360.00" y2="351.14" stroke="#231f20" stroke-width="0.9"/>
<rect x="419.10" y="354.85" width="32.40" height="5.50" fill="#a03243" />
<text x="353.50" y="359.70" font-size="6" text-anchor="end" textLength="100.00" lengthAdjust="spacingAndGlyphs" stroke-width="0.05" >EPITHELIAL MESENCHYMAL TRANSITION</text>
<line x1="356.30" y1="357.60" x2="360.00" y2="357.60" stroke="#231f20" stroke-width="0.9"/>
<rect x="419.10" y="361.31" width="32.40" height="5.50" fill="#a03243" />
<text x="353.50" y="366.16" font-size="6" text-anchor="end" textLength="52.40" lengthAdjust="spacingAndGlyphs" stroke-width="0.05" >IL2 STAT5 SIGNALING</text>
<line x1="356.30" y1="364.06" x2="360.00" y2="364.06" stroke="#231f20" stroke-width="0.9"/>
<rect x="419.10" y="367.77" width="30.90" height="5.50" fill="#a03243" />
<text x="353.50" y="372.62" font-size="6" text-anchor="end" textLength="43.20" lengthAdjust="spacingAndGlyphs" stroke-width="0.05" >UV RESPONSE DN</text>
<line x1="356.30" y1="370.52" x2="360.00" y2="370.52" stroke="#231f20" stroke-width="0.9"/>
<rect x="419.10" y="374.23" width="30.10" height="5.50" fill="#a03243" />
<text x="353.50" y="379.08" font-size="6" text-anchor="end" textLength="37.00" lengthAdjust="spacingAndGlyphs" stroke-width="0.05" >ADIPOGENESIS</text>
<line x1="356.30" y1="376.98" x2="360.00" y2="376.98" stroke="#231f20" stroke-width="0.9"/>
<rect x="419.10" y="380.69" width="28.90" height="5.50" fill="#4b6185" />
<text x="353.50" y="385.54" font-size="6" text-anchor="end" textLength="77.80" lengthAdjust="spacingAndGlyphs" stroke-width="0.05" >WNT BETA CATENIN SIGNALING</text>
<line x1="356.30" y1="383.44" x2="360.00" y2="383.44" stroke="#231f20" stroke-width="0.9"/>
<rect x="419.10" y="387.15" width="28.90" height="5.50" fill="#a03243" />
<text x="353.50" y="392.00" font-size="6" text-anchor="end" textLength="67.70" lengthAdjust="spacingAndGlyphs" stroke-width="0.05" >ESTROGEN RESPONSE LATE</text>
<line x1="356.30" y1="389.90" x2="360.00" y2="389.90" stroke="#231f20" stroke-width="0.9"/>
<rect x="419.10" y="393.61" width="28.90" height="5.50" fill="#a03243" />
<text x="353.50" y="398.46" font-size="6" text-anchor="end" textLength="63.50" lengthAdjust="spacingAndGlyphs" stroke-width="0.05" >IL6 JAK STAT3 SIGNALING</text>
<line x1="356.30" y1="396.36" x2="360.00" y2="396.36" stroke="#231f20" stroke-width="0.9"/>
<rect x="419.10" y="400.07" width="27.80" height="5.50" fill="#a03243" />
<text x="353.50" y="404.92" font-size="6" text-anchor="end" textLength="30.50" lengthAdjust="spacingAndGlyphs" stroke-width="0.05" >GLYCOLYSIS</text>
<line x1="356.30" y1="402.82" x2="360.00" y2="402.82" stroke="#231f20" stroke-width="0.9"/>
<rect x="392.60" y="406.53" width="26.50" height="5.50" fill="#4b6185" />
<text x="353.50" y="411.38" font-size="6" text-anchor="end" textLength="32.30" lengthAdjust="spacingAndGlyphs" stroke-width="0.05" >PEROXISOME</text>
<line x1="356.30" y1="409.28" x2="360.00" y2="409.28" stroke="#231f20" stroke-width="0.9"/>
<rect x="391.90" y="412.99" width="27.20" height="5.50" fill="#4b6185" />
<text x="353.50" y="417.84" font-size="6" text-anchor="end" textLength="48.00" lengthAdjust="spacingAndGlyphs" stroke-width="0.05" >SPERMATOGENESIS</text>
<line x1="356.30" y1="415.74" x2="360.00" y2="415.74" stroke="#231f20" stroke-width="0.9"/>
<rect x="391.90" y="419.45" width="27.20" height="5.50" fill="#a03243" />
<text x="353.50" y="424.30" font-size="6" text-anchor="end" textLength="58.20" lengthAdjust="spacingAndGlyphs" stroke-width="0.05" >HEDGEHOG SIGNALING</text>
<line x1="356.30" y1="422.20" x2="360.00" y2="422.20" stroke="#231f20" stroke-width="0.9"/>
<rect x="388.90" y="425.91" width="30.20" height="5.50" fill="#4b6185" />
<text x="353.50" y="430.76" font-size="6" text-anchor="end" textLength="58.40" lengthAdjust="spacingAndGlyphs" stroke-width="0.05" >BILE ACID METABOLISM</text>
<line x1="356.30" y1="428.66" x2="360.00" y2="428.66" stroke="#231f20" stroke-width="0.9"/>
<rect x="388.50" y="432.37" width="30.60" height="5.50" fill="#4b6185" />
<text x="353.50" y="437.22" font-size="6" text-anchor="end" textLength="65.30" lengthAdjust="spacingAndGlyphs" stroke-width="0.05" >XENOBIOTIC METABOLISM</text>
<line x1="356.30" y1="435.12" x2="360.00" y2="435.12" stroke="#231f20" stroke-width="0.9"/>
<rect x="384.30" y="438.83" width="34.80" height="5.50" fill="#a03243" />
<text x="353.50" y="443.68" font-size="6" text-anchor="end" textLength="42.70" lengthAdjust="spacingAndGlyphs" stroke-width="0.05" >MITOTIC SPINDLE</text>
<line x1="356.30" y1="441.58" x2="360.00" y2="441.58" stroke="#231f20" stroke-width="0.9"/>
<rect x="383.20" y="445.29" width="35.90" height="5.50" fill="#4b6185" />
<text x="353.50" y="450.14" font-size="6" text-anchor="end" textLength="57.70" lengthAdjust="spacingAndGlyphs" stroke-width="0.05" >ALLOGRAFT REJECTION</text>
<line x1="356.30" y1="448.04" x2="360.00" y2="448.04" stroke="#231f20" stroke-width="0.9"/>
<rect x="377.60" y="451.75" width="41.50" height="5.50" fill="#a03243" />
<text x="353.50" y="456.60" font-size="6" text-anchor="end" textLength="45.00" lengthAdjust="spacingAndGlyphs" stroke-width="0.05" >G2M CHECKPOINT</text>
<line x1="356.30" y1="454.50" x2="360.00" y2="454.50" stroke="#231f20" stroke-width="0.9"/>
<rect x="366.10" y="458.21" width="53.00" height="5.50" fill="#a03243" />
<text x="353.50" y="463.06" font-size="6" text-anchor="end" textLength="32.30" lengthAdjust="spacingAndGlyphs" stroke-width="0.05" >E2F TARGETS</text>
<line x1="356.30" y1="460.96" x2="360.00" y2="460.96" stroke="#231f20" stroke-width="0.9"/>
<line x1="360.20" y1="257.50" x2="360.20" y2="465.00" stroke="#231f20" stroke-width="1.1"/>
<line x1="419.10" y1="256.70" x2="419.10" y2="465.00" stroke="#333" stroke-width="0.8"/>
<line x1="359.70" y1="464.60" x2="483.00" y2="464.60" stroke="#231f20" stroke-width="1.1"/>
<line x1="370.80" y1="464.60" x2="370.80" y2="468.00" stroke="#231f20" stroke-width="0.9"/>
<text x="370.30" y="479.00" font-size="8.2" text-anchor="middle" >-2</text>
<line x1="394.80" y1="464.60" x2="394.80" y2="468.00" stroke="#231f20" stroke-width="0.9"/>
<text x="394.30" y="479.00" font-size="8.2" text-anchor="middle" >-1</text>
<line x1="419.20" y1="464.60" x2="419.20" y2="468.00" stroke="#231f20" stroke-width="0.9"/>
<text x="419.20" y="479.00" font-size="8.2" text-anchor="middle" >0</text>
<line x1="443.10" y1="464.60" x2="443.10" y2="468.00" stroke="#231f20" stroke-width="0.9"/>
<text x="443.10" y="479.00" font-size="8.2" text-anchor="middle" >1</text>
<line x1="467.20" y1="464.60" x2="467.20" y2="468.00" stroke="#231f20" stroke-width="0.9"/>
<text x="467.20" y="479.00" font-size="8.2" text-anchor="middle" >2</text>
<text x="355.60" y="491.80" font-size="8.3" textLength="109.90" lengthAdjust="spacingAndGlyphs" >Normalized enrichment score</text>
<text x="206.20" y="507.80" font-size="8.6" textLength="161.10" lengthAdjust="spacingAndGlyphs" >Enriched in palbociclib treated VavCre; JAK2</text>
<text x="367.50" y="504.60" font-size="5.5" textLength="13.70" lengthAdjust="spacingAndGlyphs" stroke-width="0.05" >V617F</text>
<text x="381.50" y="507.80" font-size="8.6" textLength="25.00" lengthAdjust="spacingAndGlyphs" >; Cdk6</text>
<text x="406.80" y="505.30" font-size="6" textLength="11.20" lengthAdjust="spacingAndGlyphs" stroke-width="0.05" >+/+</text>
<text x="421.00" y="507.80" font-size="5.8" textLength="13.20" lengthAdjust="spacingAndGlyphs" stroke-width="0.05" >LSKs</text>
<rect x="296.50" y="515.80" width="9.70" height="8.80" fill="#a03243" />
<text x="309.50" y="523.30" font-size="8.6" textLength="12.10" lengthAdjust="spacingAndGlyphs" >Yes</text>
<rect x="337.50" y="515.80" width="10.10" height="8.90" fill="#4b6185" />
<text x="351.90" y="523.30" font-size="8.6" textLength="10.10" lengthAdjust="spacingAndGlyphs" >No</text>
<text x="9.10" y="553.80" font-size="13.5" textLength="6.60" lengthAdjust="spacingAndGlyphs" stroke-width="0.05">E</text>
<text x="139.00" y="549.60" font-size="9" textLength="41.60" lengthAdjust="spacingAndGlyphs" >Palbociclib</text>
<text x="54.50" y="561.00" font-size="9" textLength="26.00" lengthAdjust="spacingAndGlyphs" >vehicle</text>
<text x="114.50" y="561.00" font-size="9" textLength="25.50" lengthAdjust="spacingAndGlyphs" >100nM</text>
<text x="173.80" y="561.00" font-size="9" textLength="26.20" lengthAdjust="spacingAndGlyphs" >250nM</text>
<text x="231.70" y="561.00" font-size="9" textLength="30.30" lengthAdjust="spacingAndGlyphs" >1000nM</text>
<line x1="27.40" y1="725.50" x2="27.40" y2="572.00" stroke="#231f20" stroke-width="1.1"/>
<path d="M23.9 574.8 L27.4 566.3 L31 574.8 L27.4 572.6 Z" fill="#231f20"/>
<line x1="44.50" y1="735.00" x2="266.00" y2="735.00" stroke="#231f20" stroke-width="1.1"/>
<path d="M262.2 731.6 L271.3 735 L262.2 738.5 L264.4 735 Z" fill="#231f20"/>
<text x="39.10" y="607.30" font-size="9.6" textLength="27.40" lengthAdjust="spacingAndGlyphs" transform="rotate(-90 39.10 607.30)" >Control</text>
<text x="38.80" y="660.40" font-size="8.3" textLength="19.60" lengthAdjust="spacingAndGlyphs" transform="rotate(-90 38.80 660.40)" >UPN1</text>
<text x="38.80" y="714.90" font-size="8.3" textLength="20.90" lengthAdjust="spacingAndGlyphs" transform="rotate(-90 38.80 714.90)" >UPN5</text>
<text x="23.90" y="712.20" font-size="10.8" textLength="22.20" lengthAdjust="spacingAndGlyphs" transform="rotate(-90 23.90 712.20)" >DAPI</text>
<text x="45.00" y="745.50" font-size="11" textLength="44.50" lengthAdjust="spacingAndGlyphs" >Annexin V</text>
<defs>
<radialGradient id="cl" cx="0.5" cy="0.5" r="0.5">
<stop offset="0" stop-color="#e89a30"/><stop offset="0.2" stop-color="#cfc23c"/><stop offset="0.42" stop-color="#5cb46a"/>
<stop offset="0.65" stop-color="#4a78c8"/><stop offset="0.85" stop-color="#8a9ad8" stop-opacity="0.6"/><stop offset="1" stop-color="#b8c0ec" stop-opacity="0"/></radialGradient>
<radialGradient id="ct" cx="0.5" cy="0.5" r="0.5">
<stop offset="0" stop-color="#8c94d8" stop-opacity="0.55"/><stop offset="1" stop-color="#c0c4ee" stop-opacity="0"/></radialGradient>
<radialGradient id="cp" cx="0.5" cy="0.5" r="0.5">
<stop offset="0" stop-color="#6c64b4" stop-opacity="0.85"/><stop offset="0.5" stop-color="#9c98d0" stop-opacity="0.7"/><stop offset="1" stop-color="#c8c8ea" stop-opacity="0"/></radialGradient>
<radialGradient id="cb" cx="0.5" cy="0.5" r="0.5">
<stop offset="0" stop-color="#3a5cb8"/><stop offset="0.6" stop-color="#7f8fd4"/><stop offset="1" stop-color="#b8c0ec" stop-opacity="0"/></radialGradient>
</defs>
<path d="M72.9 596.0h0.7M89.8 592.5h0.7M74.9 597.0h0.7M63.4 594.2h0.7M79.3 604.5h0.7M60.2 586.6h0.7M60.0 605.1h0.7M81.6 577.1h0.7M91.9 610.7h0.7M80.1 598.0h0.7M62.6 588.3h0.7M59.9 587.9h0.7M63.6 589.5h0.7M68.6 588.5h0.7M51.3 589.5h0.7M53.5 587.6h0.7M53.2 588.0h0.7M57.3 588.5h0.7M81.8 587.9h0.7M67.1 585.1h0.7M60.3 589.5h0.7M61.4 588.8h0.7M62.6 585.8h0.7M65.4 586.2h0.7M73.2 586.9h0.7M66.1 588.0h0.7M67.7 586.7h0.7M68.0 587.7h0.7M69.6 589.4h0.7M62.8 586.3h0.7M66.6 589.0h0.7M71.9 587.2h0.7M62.1 607.5h0.7M60.7 608.9h0.7M78.4 609.2h0.7M70.0 611.0h0.7M63.9 607.3h0.7M74.7 605.9h0.7" stroke="#7479c6" stroke-width="0.7" opacity="0.65"/>
<ellipse cx="53.3" cy="607.5" rx="5" ry="2.8" fill="url(#cp)"/>
<rect x="45.80" y="565.60" width="48.70" height="48.40" fill="none" stroke="#a0a0a0" stroke-width="0.8"/>
<line x1="60.80" y1="565.60" x2="60.80" y2="614.00" stroke="#7a7a7a" stroke-width="0.9"/>
<line x1="45.80" y1="597.70" x2="94.50" y2="597.70" stroke="#a8a8a8" stroke-width="1.2"/>
<path d="M44.9 608.9h1.4M44.9 603.8h1.4M44.9 598.7h1.4M44.9 593.6h1.4M44.9 588.5h1.4M44.9 583.4h1.4M44.9 578.3h1.4M44.9 573.2h1.4M44.9 568.1h1.4M48.9 613.7v1.2M52.1 613.7v1.2M55.2 613.7v1.2M58.4 613.7v1.2M61.5 613.7v1.2M64.7 613.7v1.2M67.8 613.7v1.2M70.9 613.7v1.2M74.1 613.7v1.2M77.2 613.7v1.2M80.4 613.7v1.2M83.5 613.7v1.2M86.6 613.7v1.2M89.8 613.7v1.2M92.9 613.7v1.2" stroke="#555" stroke-width="0.6"/>
<text x="48.00" y="573.80" font-size="6.9" textLength="9.00" lengthAdjust="spacingAndGlyphs" stroke="#231f20" stroke-width="0.22">4%</text>
<text x="79.50" y="573.80" font-size="6.9" textLength="12.30" lengthAdjust="spacingAndGlyphs" stroke="#231f20" stroke-width="0.22">16%</text>
<text x="48.80" y="603.60" font-size="6.9" textLength="12.50" lengthAdjust="spacingAndGlyphs" stroke="#231f20" stroke-width="0.22">78%</text>
<text x="83.30" y="603.60" font-size="6.9" textLength="8.50" lengthAdjust="spacingAndGlyphs" stroke="#231f20" stroke-width="0.22">2%</text>
<path d="M120.7 591.3h0.7M124.2 585.9h0.7M151.5 605.0h0.7M127.4 607.9h0.7M124.1 590.3h0.7M147.3 599.2h0.7M120.1 611.6h0.7M124.2 585.4h0.7M144.3 588.0h0.7M127.2 578.8h0.7M128.7 587.6h0.7M122.4 589.0h0.7M117.4 587.7h0.7M128.7 585.4h0.7M111.3 584.0h0.7M123.4 587.2h0.7M131.3 583.8h0.7M122.0 587.4h0.7M121.1 580.8h0.7M126.8 591.1h0.7M128.0 584.0h0.7M119.5 586.5h0.7M136.9 587.4h0.7M122.7 589.4h0.7M121.5 590.1h0.7M117.9 585.0h0.7M126.3 589.1h0.7M125.9 586.7h0.7M111.1 584.4h0.7M118.3 584.8h0.7M125.5 585.3h0.7M126.7 586.2h0.7M130.2 609.2h0.7M128.4 608.2h0.7M133.2 609.4h0.7M140.9 609.6h0.7M143.0 605.0h0.7M133.5 603.7h0.7" stroke="#7479c6" stroke-width="0.7" opacity="0.65"/>
<ellipse cx="113.5" cy="607.5" rx="5" ry="2.8" fill="url(#cp)"/>
<rect x="105.30" y="566.20" width="49.20" height="47.80" fill="none" stroke="#a0a0a0" stroke-width="0.8"/>
<line x1="120.50" y1="566.20" x2="120.50" y2="614.00" stroke="#7a7a7a" stroke-width="0.9"/>
<line x1="105.30" y1="597.50" x2="154.50" y2="597.50" stroke="#a8a8a8" stroke-width="1.2"/>
<path d="M104.4 609.0h1.4M104.4 603.9h1.4M104.4 598.9h1.4M104.4 593.9h1.4M104.4 588.8h1.4M104.4 583.8h1.4M104.4 578.8h1.4M104.4 573.7h1.4M104.4 568.7h1.4M108.5 613.7v1.2M111.6 613.7v1.2M114.8 613.7v1.2M118.0 613.7v1.2M121.2 613.7v1.2M124.3 613.7v1.2M127.5 613.7v1.2M130.7 613.7v1.2M133.9 613.7v1.2M137.0 613.7v1.2M140.2 613.7v1.2M143.4 613.7v1.2M146.6 613.7v1.2M149.7 613.7v1.2M152.9 613.7v1.2" stroke="#555" stroke-width="0.6"/>
<text x="108.70" y="573.80" font-size="6.9" textLength="9.20" lengthAdjust="spacingAndGlyphs" stroke="#231f20" stroke-width="0.22">5%</text>
<text x="139.20" y="573.80" font-size="6.9" textLength="12.50" lengthAdjust="spacingAndGlyphs" stroke="#231f20" stroke-width="0.22">12%</text>
<text x="109.20" y="603.60" font-size="6.9" textLength="12.70" lengthAdjust="spacingAndGlyphs" stroke="#231f20" stroke-width="0.22">79%</text>
<text x="140.40" y="603.60" font-size="6.9" textLength="9.00" lengthAdjust="spacingAndGlyphs" stroke="#231f20" stroke-width="0.22">4%</text>
<path d="M180.1 577.7h0.7M175.5 608.8h0.7M201.4 610.7h0.7M175.6 599.1h0.7M193.1 602.4h0.7M186.9 612.0h0.7M177.7 595.9h0.7M202.7 608.5h0.7M202.7 601.5h0.7M204.9 609.0h0.7M176.6 587.7h0.7M191.9 582.4h0.7M172.8 586.9h0.7M187.1 582.8h0.7M177.8 583.5h0.7M174.9 583.5h0.7M189.5 586.5h0.7M194.3 584.8h0.7M181.2 582.8h0.7M181.3 582.1h0.7M171.3 586.5h0.7M190.6 586.8h0.7M190.0 585.6h0.7M177.7 585.2h0.7M179.8 582.6h0.7M171.8 581.7h0.7M182.0 585.3h0.7M179.2 588.1h0.7M183.1 586.3h0.7M189.3 583.2h0.7M170.2 586.7h0.7M177.9 587.9h0.7M181.2 603.1h0.7M198.3 610.3h0.7M197.5 605.0h0.7M184.0 610.6h0.7M179.7 602.3h0.7M196.8 608.1h0.7" stroke="#7479c6" stroke-width="0.7" opacity="0.65"/>
<ellipse cx="170.4" cy="608.0" rx="5" ry="2.8" fill="url(#cp)"/>
<rect x="164.20" y="566.50" width="50.50" height="47.50" fill="none" stroke="#a0a0a0" stroke-width="0.8"/>
<line x1="178.80" y1="566.50" x2="178.80" y2="614.00" stroke="#7a7a7a" stroke-width="0.9"/>
<line x1="164.20" y1="597.60" x2="214.70" y2="597.60" stroke="#a8a8a8" stroke-width="1.2"/>
<path d="M163.3 609.0h1.4M163.3 604.0h1.4M163.3 599.0h1.4M163.3 594.0h1.4M163.3 589.0h1.4M163.3 584.0h1.4M163.3 579.0h1.4M163.3 574.0h1.4M163.3 569.0h1.4M167.5 613.7v1.2M170.7 613.7v1.2M174.0 613.7v1.2M177.2 613.7v1.2M180.5 613.7v1.2M183.7 613.7v1.2M187.0 613.7v1.2M190.3 613.7v1.2M193.5 613.7v1.2M196.8 613.7v1.2M200.0 613.7v1.2M203.3 613.7v1.2M206.6 613.7v1.2M209.8 613.7v1.2M213.1 613.7v1.2" stroke="#555" stroke-width="0.6"/>
<text x="165.10" y="573.80" font-size="6.9" textLength="9.20" lengthAdjust="spacingAndGlyphs" stroke="#231f20" stroke-width="0.22">7%</text>
<text x="199.20" y="573.80" font-size="6.9" textLength="12.70" lengthAdjust="spacingAndGlyphs" stroke="#231f20" stroke-width="0.22">16%</text>
<text x="165.80" y="603.60" font-size="6.9" textLength="12.20" lengthAdjust="spacingAndGlyphs" stroke="#231f20" stroke-width="0.22">74%</text>
<text x="199.20" y="603.60" font-size="6.9" textLength="8.80" lengthAdjust="spacingAndGlyphs" stroke="#231f20" stroke-width="0.22">3%</text>
<path d="M262.3 610.0h0.7M246.6 582.7h0.7M252.9 586.4h0.7M244.3 591.2h0.7M259.2 594.0h0.7M248.0 606.1h0.7M272.1 592.6h0.7M239.3 577.9h0.7M268.1 578.2h0.7M262.2 596.7h0.7M241.1 588.6h0.7M248.2 585.1h0.7M243.7 585.1h0.7M247.1 583.6h0.7M246.2 585.5h0.7M240.5 583.3h0.7M239.0 582.7h0.7M250.3 579.8h0.7M243.4 583.7h0.7M241.3 585.2h0.7M251.8 585.2h0.7M244.2 583.7h0.7M244.2 587.0h0.7M242.6 582.5h0.7M237.4 582.6h0.7M236.7 587.4h0.7M247.1 584.5h0.7M253.8 583.6h0.7M249.5 586.8h0.7M235.7 581.6h0.7M239.4 587.0h0.7M252.8 582.3h0.7M261.4 603.8h0.7M243.6 609.0h0.7M256.0 609.8h0.7M255.9 604.1h0.7M262.2 603.1h0.7" stroke="#7479c6" stroke-width="0.7" opacity="0.65"/>
<ellipse cx="232.7" cy="608.0" rx="5" ry="2.8" fill="url(#cp)"/>
<rect x="225.10" y="566.80" width="49.60" height="46.90" fill="none" stroke="#a0a0a0" stroke-width="0.8"/>
<line x1="240.60" y1="566.80" x2="240.60" y2="613.70" stroke="#7a7a7a" stroke-width="0.9"/>
<line x1="225.10" y1="597.40" x2="274.70" y2="597.40" stroke="#a8a8a8" stroke-width="1.2"/>
<path d="M224.2 608.8h1.4M224.2 603.8h1.4M224.2 598.9h1.4M224.2 594.0h1.4M224.2 589.0h1.4M224.2 584.1h1.4M224.2 579.1h1.4M224.2 574.2h1.4M224.2 569.3h1.4M228.3 613.4v1.2M231.5 613.4v1.2M234.7 613.4v1.2M237.9 613.4v1.2M241.1 613.4v1.2M244.3 613.4v1.2M247.5 613.4v1.2M250.7 613.4v1.2M253.9 613.4v1.2M257.1 613.4v1.2M260.3 613.4v1.2M263.5 613.4v1.2M266.7 613.4v1.2M269.9 613.4v1.2M273.1 613.4v1.2" stroke="#555" stroke-width="0.6"/>
<text x="228.80" y="573.80" font-size="6.9" textLength="9.20" lengthAdjust="spacingAndGlyphs" stroke="#231f20" stroke-width="0.22">4%</text>
<text x="259.20" y="573.80" font-size="6.9" textLength="13.20" lengthAdjust="spacingAndGlyphs" stroke="#231f20" stroke-width="0.22">17%</text>
<text x="228.80" y="603.60" font-size="6.9" textLength="12.40" lengthAdjust="spacingAndGlyphs" stroke="#231f20" stroke-width="0.22">75%</text>
<text x="263.90" y="603.60" font-size="6.9" textLength="8.50" lengthAdjust="spacingAndGlyphs" stroke="#231f20" stroke-width="0.22">3%</text>
<path d="M75.9 662.3h0.7M68.0 666.8h0.7M87.5 645.6h0.7M59.3 649.1h0.7M76.4 661.5h0.7M74.1 633.6h0.7M85.8 634.9h0.7M85.5 639.0h0.7M68.5 662.2h0.7M61.4 638.1h0.7M75.2 659.8h0.7M87.0 658.5h0.7M90.8 651.1h0.7M90.9 635.7h0.7M64.4 652.4h0.7M66.9 660.0h0.7M79.6 652.2h0.7M87.1 653.6h0.7M67.7 646.9h0.7M87.2 666.4h0.7M63.9 664.6h0.7M91.6 652.3h0.7M74.5 635.1h0.7M73.8 634.9h0.7M75.0 634.0h0.7M76.6 634.6h0.7M73.5 640.4h0.7M73.9 636.1h0.7M75.0 635.4h0.7M74.0 634.7h0.7M77.8 637.2h0.7M75.0 640.9h0.7M76.1 638.3h0.7M76.2 646.8h0.7M74.2 633.9h0.7M75.8 642.1h0.7M75.8 634.7h0.7M75.2 634.5h0.7M75.5 637.7h0.7M74.8 638.7h0.7M74.2 640.7h0.7M76.7 639.9h0.7M76.2 638.8h0.7M75.2 637.6h0.7M73.9 634.4h0.7M74.3 638.1h0.7M74.5 633.8h0.7M75.7 642.5h0.7M74.2 639.6h0.7M76.2 640.7h0.7M75.7 637.0h0.7M75.1 645.7h0.7M76.1 636.5h0.7M74.1 647.5h0.7M76.1 657.6h0.7M75.7 635.4h0.7M75.3 644.2h0.7M75.2 636.2h0.7M75.8 639.4h0.7M75.4 636.5h0.7M73.7 639.1h0.7M76.0 633.5h0.7M74.1 647.0h0.7M75.8 633.7h0.7M73.2 633.4h0.7M73.4 633.2h0.7M75.4 635.5h0.7M75.5 634.2h0.7M73.8 635.7h0.7M74.6 634.6h0.7M75.5 637.3h0.7M77.2 651.0h0.7M76.3 664.8h0.7M76.8 664.6h0.7M66.5 664.2h0.7M66.6 661.5h0.7M67.6 660.6h0.7M57.1 665.6h0.7M71.5 665.0h0.7M66.3 662.5h0.7M72.3 662.5h0.7M60.3 665.0h0.7M67.6 669.9h0.7M73.6 664.6h0.7M71.6 666.5h0.7M65.3 661.0h0.7M69.4 656.0h0.7M73.7 663.8h0.7M62.2 667.9h0.7M73.1 661.6h0.7M73.9 659.1h0.7M75.3 667.3h0.7M71.4 664.5h0.7M65.3 659.3h0.7M72.0 666.3h0.7M66.6 665.1h0.7M57.0 661.5h0.7M69.9 667.1h0.7M61.7 667.9h0.7M63.9 662.6h0.7M70.7 660.9h0.7M65.0 662.5h0.7" stroke="#7479c6" stroke-width="0.7" opacity="0.65"/>
<ellipse cx="54.8" cy="665.0" rx="9" ry="3.6" fill="url(#ct)"/>
<ellipse cx="51.8" cy="665.0" rx="6.2" ry="3.8" fill="url(#cl)" transform="rotate(-10 51.8 665.0)"/>
<ellipse cx="75.2" cy="633.0" rx="3" ry="1.7" fill="url(#cb)"/>
<rect x="44.20" y="622.50" width="50.60" height="49.70" fill="none" stroke="#a0a0a0" stroke-width="0.8"/>
<line x1="60.30" y1="622.50" x2="60.30" y2="672.20" stroke="#7a7a7a" stroke-width="0.9"/>
<line x1="44.20" y1="654.40" x2="94.80" y2="654.40" stroke="#a8a8a8" stroke-width="1.2"/>
<path d="M43.3 667.0h1.4M43.3 661.7h1.4M43.3 656.5h1.4M43.3 651.3h1.4M43.3 646.0h1.4M43.3 640.8h1.4M43.3 635.6h1.4M43.3 630.3h1.4M43.3 625.1h1.4M47.5 671.9v1.2M50.7 671.9v1.2M54.0 671.9v1.2M57.3 671.9v1.2M60.5 671.9v1.2M63.8 671.9v1.2M67.1 671.9v1.2M70.3 671.9v1.2M73.6 671.9v1.2M76.8 671.9v1.2M80.1 671.9v1.2M83.4 671.9v1.2M86.6 671.9v1.2M89.9 671.9v1.2M93.2 671.9v1.2" stroke="#555" stroke-width="0.6"/>
<text x="44.80" y="630.50" font-size="6.9" textLength="15.40" lengthAdjust="spacingAndGlyphs" stroke="#231f20" stroke-width="0.22">0.2%</text>
<text x="78.50" y="630.50" font-size="6.9" textLength="14.80" lengthAdjust="spacingAndGlyphs" stroke="#231f20" stroke-width="0.22">6.8%</text>
<text x="47.80" y="660.60" font-size="6.9" textLength="13.00" lengthAdjust="spacingAndGlyphs" stroke="#231f20" stroke-width="0.22">91%</text>
<text x="82.30" y="660.60" font-size="6.9" textLength="8.70" lengthAdjust="spacingAndGlyphs" stroke="#231f20" stroke-width="0.22">2%</text>
<path d="M152.2 656.1h0.7M141.6 660.6h0.7M151.5 632.7h0.7M138.6 659.7h0.7M125.9 647.0h0.7M118.6 639.2h0.7M130.1 635.5h0.7M125.7 666.0h0.7M136.3 651.0h0.7M151.0 653.3h0.7M152.0 655.9h0.7M145.5 634.7h0.7M138.0 660.5h0.7M118.4 667.0h0.7M122.5 649.6h0.7M122.8 650.5h0.7M138.4 634.0h0.7M150.3 647.7h0.7M135.4 654.4h0.7M129.7 642.6h0.7M140.0 653.0h0.7M126.8 658.9h0.7M135.7 633.4h0.7M135.8 634.4h0.7M136.9 642.1h0.7M133.8 641.8h0.7M135.8 634.5h0.7M138.7 633.5h0.7M138.1 639.1h0.7M134.6 635.7h0.7M136.7 633.2h0.7M133.0 634.7h0.7M135.6 640.1h0.7M138.0 634.0h0.7M135.3 634.4h0.7M134.9 637.7h0.7M135.9 634.5h0.7M135.2 632.9h0.7M134.1 636.0h0.7M134.9 633.8h0.7M134.7 635.9h0.7M136.1 640.8h0.7M138.8 632.6h0.7M135.7 637.4h0.7M137.7 642.0h0.7M136.2 641.9h0.7M135.2 636.6h0.7M135.2 640.6h0.7M134.4 637.7h0.7M135.8 636.8h0.7M135.8 651.8h0.7M137.9 639.6h0.7M136.2 632.9h0.7M135.6 639.6h0.7M135.4 634.6h0.7M135.4 633.0h0.7M137.3 637.7h0.7M134.2 635.4h0.7M134.8 638.0h0.7M136.1 638.5h0.7M135.7 645.7h0.7M136.3 633.9h0.7M136.4 641.4h0.7M135.9 637.1h0.7M135.0 634.8h0.7M136.2 638.5h0.7M133.7 649.6h0.7M135.1 640.2h0.7M135.7 648.1h0.7M134.8 635.3h0.7M137.8 640.5h0.7M136.2 633.7h0.7M129.5 658.8h0.7M124.0 663.4h0.7M134.0 664.7h0.7M131.6 663.9h0.7M119.4 661.5h0.7M132.3 667.2h0.7M123.6 664.6h0.7M132.9 665.1h0.7M125.4 666.3h0.7M129.7 666.0h0.7M137.0 668.8h0.7M126.9 660.7h0.7M134.6 662.2h0.7M126.1 665.3h0.7M137.3 664.7h0.7M125.3 661.7h0.7M125.4 661.2h0.7M125.8 665.1h0.7M121.8 658.4h0.7M129.1 661.0h0.7M135.3 661.4h0.7M133.6 662.3h0.7M136.2 662.9h0.7M128.5 663.6h0.7M129.1 656.4h0.7M131.4 660.0h0.7M134.6 666.2h0.7M134.2 664.4h0.7M119.5 667.0h0.7M136.6 665.2h0.7" stroke="#7479c6" stroke-width="0.7" opacity="0.65"/>
<ellipse cx="115.7" cy="664.0" rx="9" ry="3.6" fill="url(#ct)"/>
<ellipse cx="112.7" cy="664.0" rx="6.2" ry="3.8" fill="url(#cl)" transform="rotate(-10 112.7 664.0)"/>
<ellipse cx="135.8" cy="632.3" rx="3" ry="1.7" fill="url(#cb)"/>
<rect x="104.20" y="621.80" width="50.00" height="49.80" fill="none" stroke="#a0a0a0" stroke-width="0.8"/>
<line x1="120.80" y1="621.80" x2="120.80" y2="671.60" stroke="#7a7a7a" stroke-width="0.9"/>
<line x1="104.20" y1="653.20" x2="154.20" y2="653.20" stroke="#a8a8a8" stroke-width="1.2"/>
<path d="M103.3 666.4h1.4M103.3 661.1h1.4M103.3 655.9h1.4M103.3 650.6h1.4M103.3 645.4h1.4M103.3 640.1h1.4M103.3 634.9h1.4M103.3 629.7h1.4M103.3 624.4h1.4M107.4 671.3v1.2M110.7 671.3v1.2M113.9 671.3v1.2M117.1 671.3v1.2M120.3 671.3v1.2M123.6 671.3v1.2M126.8 671.3v1.2M130.0 671.3v1.2M133.2 671.3v1.2M136.5 671.3v1.2M139.7 671.3v1.2M142.9 671.3v1.2M146.1 671.3v1.2M149.4 671.3v1.2M152.6 671.3v1.2" stroke="#555" stroke-width="0.6"/>
<text x="105.00" y="630.50" font-size="6.9" textLength="15.30" lengthAdjust="spacingAndGlyphs" stroke="#231f20" stroke-width="0.22">0.8%</text>
<text x="138.80" y="630.50" font-size="6.9" textLength="12.40" lengthAdjust="spacingAndGlyphs" stroke="#231f20" stroke-width="0.22">14%</text>
<text x="108.80" y="660.60" font-size="6.9" textLength="12.40" lengthAdjust="spacingAndGlyphs" stroke="#231f20" stroke-width="0.22">83%</text>
<text x="139.70" y="660.60" font-size="6.9" textLength="14.50" lengthAdjust="spacingAndGlyphs" stroke="#231f20" stroke-width="0.22">2.2%</text>
<path d="M178.6 655.8h0.7M180.7 660.0h0.7M198.6 641.1h0.7M183.4 660.7h0.7M194.1 660.7h0.7M189.6 644.6h0.7M210.0 657.2h0.7M193.1 652.1h0.7M201.2 658.6h0.7M208.1 647.3h0.7M204.9 657.0h0.7M205.9 662.3h0.7M205.2 665.4h0.7M209.6 656.0h0.7M194.2 658.6h0.7M204.1 647.7h0.7M190.5 637.3h0.7M201.9 669.3h0.7M188.9 638.1h0.7M182.9 647.9h0.7M186.0 668.5h0.7M177.7 643.5h0.7M194.8 639.0h0.7M193.6 636.6h0.7M194.7 635.3h0.7M191.2 640.0h0.7M194.1 633.1h0.7M193.8 636.8h0.7M193.7 643.4h0.7M192.8 635.1h0.7M193.9 637.5h0.7M194.4 642.7h0.7M192.9 640.5h0.7M194.1 639.6h0.7M193.3 646.9h0.7M194.4 635.6h0.7M190.6 637.4h0.7M192.7 632.8h0.7M196.3 637.5h0.7M193.9 638.8h0.7M192.1 633.8h0.7M192.9 653.3h0.7M193.0 636.6h0.7M194.9 632.8h0.7M192.0 641.3h0.7M193.1 641.6h0.7M193.9 635.7h0.7M193.1 637.2h0.7M194.5 638.5h0.7M191.0 649.0h0.7M193.3 640.9h0.7M194.7 642.0h0.7M195.7 632.4h0.7M194.8 643.0h0.7M194.3 635.0h0.7M193.4 635.4h0.7M192.2 633.3h0.7M195.0 634.9h0.7M194.1 637.0h0.7M193.8 639.4h0.7M194.0 633.8h0.7M193.9 636.5h0.7M192.1 634.6h0.7M194.7 643.4h0.7M193.1 637.9h0.7M194.4 635.0h0.7M191.6 634.6h0.7M192.3 640.5h0.7M194.4 636.6h0.7M190.5 636.6h0.7M194.3 641.2h0.7M194.7 632.8h0.7M190.5 663.5h0.7M185.2 666.8h0.7M175.8 668.2h0.7M179.9 662.9h0.7M188.5 662.5h0.7M186.9 665.8h0.7M181.9 661.7h0.7M189.6 665.6h0.7M181.0 664.6h0.7M182.5 667.5h0.7M195.4 659.1h0.7M182.6 661.5h0.7M193.0 664.5h0.7M177.6 664.0h0.7M189.8 662.7h0.7M184.0 661.5h0.7M193.2 662.2h0.7M180.4 662.5h0.7M178.9 665.2h0.7M177.1 665.2h0.7M194.9 660.2h0.7M189.2 664.7h0.7M191.7 664.4h0.7M182.6 660.7h0.7M184.3 666.0h0.7M190.3 663.5h0.7M196.2 664.2h0.7M188.4 659.2h0.7M176.0 662.0h0.7M189.3 665.4h0.7" stroke="#7479c6" stroke-width="0.7" opacity="0.65"/>
<ellipse cx="173.6" cy="664.2" rx="9" ry="3.6" fill="url(#ct)"/>
<ellipse cx="170.6" cy="664.2" rx="6.2" ry="3.8" fill="url(#cl)" transform="rotate(-10 170.6 664.2)"/>
<ellipse cx="193.5" cy="632.3" rx="3" ry="1.7" fill="url(#cb)"/>
<rect x="163.20" y="621.80" width="49.90" height="49.80" fill="none" stroke="#a0a0a0" stroke-width="0.8"/>
<line x1="179.60" y1="621.80" x2="179.60" y2="671.60" stroke="#7a7a7a" stroke-width="0.9"/>
<line x1="163.20" y1="653.40" x2="213.10" y2="653.40" stroke="#a8a8a8" stroke-width="1.2"/>
<path d="M162.3 666.4h1.4M162.3 661.1h1.4M162.3 655.9h1.4M162.3 650.6h1.4M162.3 645.4h1.4M162.3 640.1h1.4M162.3 634.9h1.4M162.3 629.7h1.4M162.3 624.4h1.4M166.4 671.3v1.2M169.6 671.3v1.2M172.9 671.3v1.2M176.1 671.3v1.2M179.3 671.3v1.2M182.5 671.3v1.2M185.7 671.3v1.2M189.0 671.3v1.2M192.2 671.3v1.2M195.4 671.3v1.2M198.6 671.3v1.2M201.8 671.3v1.2M205.1 671.3v1.2M208.3 671.3v1.2M211.5 671.3v1.2" stroke="#555" stroke-width="0.6"/>
<text x="165.30" y="630.50" font-size="6.9" textLength="14.30" lengthAdjust="spacingAndGlyphs" stroke="#231f20" stroke-width="0.22">1.2%</text>
<text x="194.60" y="630.50" font-size="6.9" textLength="18.50" lengthAdjust="spacingAndGlyphs" stroke="#231f20" stroke-width="0.22">11.4%</text>
<text x="165.80" y="660.60" font-size="6.9" textLength="12.70" lengthAdjust="spacingAndGlyphs" stroke="#231f20" stroke-width="0.22">85%</text>
<text x="196.90" y="660.60" font-size="6.9" textLength="15.00" lengthAdjust="spacingAndGlyphs" stroke="#231f20" stroke-width="0.22">2.4%</text>
<path d="M241.2 646.0h0.7M255.3 661.5h0.7M266.4 654.9h0.7M243.0 660.7h0.7M269.1 652.5h0.7M249.8 650.7h0.7M242.5 658.7h0.7M272.0 651.3h0.7M262.5 663.3h0.7M244.4 667.4h0.7M259.4 639.3h0.7M240.4 641.0h0.7M257.7 658.1h0.7M249.0 666.8h0.7M250.1 649.3h0.7M241.8 668.5h0.7M242.2 665.9h0.7M256.5 652.9h0.7M257.1 641.8h0.7M269.3 669.2h0.7M266.1 654.5h0.7M241.8 662.9h0.7M254.8 647.0h0.7M255.5 641.6h0.7M255.8 636.4h0.7M254.9 633.3h0.7M256.1 633.4h0.7M258.2 633.9h0.7M254.8 637.5h0.7M254.5 642.6h0.7M254.2 638.8h0.7M255.5 633.7h0.7M255.8 640.0h0.7M256.1 637.9h0.7M254.7 634.3h0.7M254.5 633.2h0.7M254.4 635.1h0.7M255.2 634.0h0.7M255.1 635.9h0.7M257.0 634.9h0.7M254.2 633.9h0.7M254.1 640.0h0.7M255.5 644.2h0.7M251.5 634.5h0.7M256.6 644.2h0.7M254.3 636.5h0.7M253.0 638.6h0.7M254.0 633.9h0.7M253.0 638.8h0.7M255.2 634.6h0.7M255.0 647.3h0.7M255.2 641.9h0.7M255.4 638.5h0.7M255.0 634.0h0.7M256.3 637.9h0.7M254.2 632.6h0.7M257.2 636.0h0.7M254.5 633.3h0.7M255.0 639.1h0.7M255.4 635.1h0.7M258.1 642.1h0.7M254.2 644.6h0.7M253.5 638.5h0.7M255.8 643.9h0.7M253.0 638.7h0.7M257.1 639.7h0.7M256.5 638.6h0.7M255.4 632.6h0.7M255.4 638.4h0.7M255.2 634.7h0.7M257.1 640.4h0.7M254.5 636.5h0.7M248.5 664.5h0.7M255.1 664.0h0.7M242.7 657.3h0.7M256.7 663.9h0.7M246.1 664.4h0.7M255.6 666.1h0.7M255.0 665.6h0.7M243.6 668.8h0.7M246.1 666.5h0.7M257.1 668.9h0.7M240.4 662.6h0.7M254.7 662.5h0.7M237.3 667.3h0.7M242.8 666.6h0.7M255.1 666.8h0.7M239.0 660.6h0.7M250.8 666.6h0.7M237.9 662.6h0.7M240.9 662.3h0.7M240.3 667.9h0.7M240.0 664.2h0.7M252.8 667.9h0.7M244.0 660.7h0.7M248.6 658.8h0.7M241.0 661.8h0.7M250.2 669.9h0.7M242.0 663.0h0.7M256.8 662.9h0.7M245.4 660.4h0.7M237.2 663.2h0.7" stroke="#7479c6" stroke-width="0.7" opacity="0.65"/>
<ellipse cx="234.2" cy="664.8" rx="9" ry="3.6" fill="url(#ct)"/>
<ellipse cx="231.2" cy="664.8" rx="6.2" ry="3.8" fill="url(#cl)" transform="rotate(-10 231.2 664.8)"/>
<ellipse cx="255.4" cy="632.5" rx="3" ry="1.7" fill="url(#cb)"/>
<rect x="224.40" y="621.80" width="50.10" height="49.70" fill="none" stroke="#a0a0a0" stroke-width="0.8"/>
<line x1="241.50" y1="621.80" x2="241.50" y2="671.50" stroke="#7a7a7a" stroke-width="0.9"/>
<line x1="224.40" y1="654.40" x2="274.50" y2="654.40" stroke="#a8a8a8" stroke-width="1.2"/>
<path d="M223.5 666.3h1.4M223.5 661.0h1.4M223.5 655.8h1.4M223.5 650.6h1.4M223.5 645.3h1.4M223.5 640.1h1.4M223.5 634.9h1.4M223.5 629.6h1.4M223.5 624.4h1.4M227.6 671.2v1.2M230.9 671.2v1.2M234.1 671.2v1.2M237.3 671.2v1.2M240.6 671.2v1.2M243.8 671.2v1.2M247.0 671.2v1.2M250.3 671.2v1.2M253.5 671.2v1.2M256.7 671.2v1.2M260.0 671.2v1.2M263.2 671.2v1.2M266.4 671.2v1.2M269.7 671.2v1.2M272.9 671.2v1.2" stroke="#555" stroke-width="0.6"/>
<text x="226.80" y="630.50" font-size="6.9" textLength="14.70" lengthAdjust="spacingAndGlyphs" stroke="#231f20" stroke-width="0.22">0.3%</text>
<text x="255.00" y="630.50" font-size="6.9" textLength="18.10" lengthAdjust="spacingAndGlyphs" stroke="#231f20" stroke-width="0.22">12.4%</text>
<text x="225.80" y="660.60" font-size="6.9" textLength="18.80" lengthAdjust="spacingAndGlyphs" stroke="#231f20" stroke-width="0.22">85.5%</text>
<text x="259.40" y="660.60" font-size="6.9" textLength="13.70" lengthAdjust="spacingAndGlyphs" stroke="#231f20" stroke-width="0.22">1.8%</text>
<path d="M77.8 699.2h0.7M65.4 719.1h0.7M59.6 699.2h0.7M83.3 697.7h0.7M66.4 709.3h0.7M63.1 722.7h0.7M91.6 689.6h0.7M72.9 717.0h0.7M70.2 723.9h0.7M74.2 695.2h0.7M76.2 713.0h0.7M69.3 713.5h0.7M84.3 708.1h0.7M74.4 720.7h0.7M80.8 708.2h0.7M90.3 695.0h0.7M84.2 694.6h0.7M78.1 697.3h0.7M72.1 717.9h0.7M84.4 718.6h0.7M64.9 707.0h0.7M64.4 710.5h0.7M73.2 700.5h0.7M70.9 699.3h0.7M69.8 699.3h0.7M74.3 701.2h0.7M76.4 700.7h0.7M71.6 701.1h0.7M73.5 702.8h0.7M78.1 701.7h0.7M71.3 699.8h0.7M74.2 699.6h0.7M75.0 701.4h0.7M75.6 700.8h0.7M71.9 699.4h0.7M73.5 702.2h0.7M77.3 701.8h0.7M74.6 701.4h0.7M75.6 702.2h0.7M75.7 698.5h0.7M75.9 701.0h0.7M72.8 701.2h0.7M74.4 700.4h0.7M70.1 700.6h0.7M75.0 700.4h0.7M70.3 701.1h0.7M75.4 700.7h0.7M74.7 700.0h0.7M63.8 721.4h0.7M57.8 724.0h0.7M57.0 725.4h0.7M70.2 721.9h0.7M60.7 721.9h0.7M60.9 724.5h0.7M65.1 723.7h0.7M62.7 721.2h0.7M74.9 721.6h0.7M64.0 721.6h0.7M68.6 723.7h0.7M69.5 722.7h0.7M72.7 718.5h0.7M65.1 719.8h0.7M63.8 723.1h0.7M71.1 720.4h0.7M60.4 721.3h0.7M66.7 723.0h0.7M59.4 722.4h0.7M65.2 723.3h0.7M62.2 716.0h0.7M69.2 724.1h0.7M72.7 722.6h0.7M57.7 723.9h0.7M69.4 721.0h0.7M56.7 723.2h0.7M59.8 721.8h0.7M73.8 724.0h0.7M69.9 721.8h0.7M59.2 723.9h0.7M74.1 719.8h0.7M70.0 724.6h0.7M73.5 723.7h0.7M63.6 722.2h0.7M57.9 723.3h0.7M70.9 720.8h0.7" stroke="#7479c6" stroke-width="0.7" opacity="0.65"/>
<ellipse cx="54.3" cy="722.0" rx="9" ry="3.6" fill="url(#ct)"/>
<ellipse cx="51.3" cy="722.0" rx="6.2" ry="3.8" fill="url(#cl)" transform="rotate(-10 51.3 722.0)"/>
<ellipse cx="73.8" cy="700.5" rx="3.2" ry="1.6" fill="url(#cb)" opacity="0.6"/>
<rect x="44.50" y="678.30" width="49.50" height="50.30" fill="none" stroke="#a0a0a0" stroke-width="0.8"/>
<line x1="60.50" y1="678.30" x2="60.50" y2="728.60" stroke="#7a7a7a" stroke-width="0.9"/>
<line x1="44.50" y1="710.20" x2="94.00" y2="710.20" stroke="#a8a8a8" stroke-width="1.2"/>
<path d="M43.6 723.3h1.4M43.6 718.0h1.4M43.6 712.7h1.4M43.6 707.4h1.4M43.6 702.1h1.4M43.6 696.8h1.4M43.6 691.5h1.4M43.6 686.2h1.4M43.6 680.9h1.4M47.7 728.3v1.2M50.9 728.3v1.2M54.1 728.3v1.2M57.3 728.3v1.2M60.5 728.3v1.2M63.7 728.3v1.2M66.9 728.3v1.2M70.0 728.3v1.2M73.2 728.3v1.2M76.4 728.3v1.2M79.6 728.3v1.2M82.8 728.3v1.2M86.0 728.3v1.2M89.2 728.3v1.2M92.4 728.3v1.2" stroke="#555" stroke-width="0.6"/>
<text x="48.00" y="687.50" font-size="6.9" textLength="10.80" lengthAdjust="spacingAndGlyphs" stroke="#231f20" stroke-width="0.22">0 %</text>
<text x="82.50" y="687.50" font-size="6.9" textLength="9.00" lengthAdjust="spacingAndGlyphs" stroke="#231f20" stroke-width="0.22">4%</text>
<text x="46.30" y="717.50" font-size="6.9" textLength="13.70" lengthAdjust="spacingAndGlyphs" stroke="#231f20" stroke-width="0.22">88%</text>
<text x="82.50" y="717.50" font-size="6.9" textLength="8.80" lengthAdjust="spacingAndGlyphs" stroke="#231f20" stroke-width="0.22">8%</text>
<path d="M134.7 690.6h0.7M130.3 697.5h0.7M117.7 694.2h0.7M137.4 689.7h0.7M127.4 704.5h0.7M135.6 693.6h0.7M141.4 698.3h0.7M142.1 713.7h0.7M121.5 696.2h0.7M126.3 715.4h0.7M130.7 703.1h0.7M147.0 697.0h0.7M126.7 701.5h0.7M124.0 690.0h0.7M117.2 712.3h0.7M136.4 719.1h0.7M150.9 699.8h0.7M140.1 723.2h0.7M124.0 714.6h0.7M140.0 724.6h0.7M147.1 697.4h0.7M138.8 691.9h0.7M130.3 701.4h0.7M134.3 701.3h0.7M131.1 702.1h0.7M132.1 701.6h0.7M130.3 701.6h0.7M133.9 702.5h0.7M132.4 701.4h0.7M131.0 701.9h0.7M134.0 702.2h0.7M131.5 699.2h0.7M132.2 700.5h0.7M130.7 701.6h0.7M134.4 701.3h0.7M134.7 701.3h0.7M130.2 700.0h0.7M131.5 701.7h0.7M134.3 701.0h0.7M134.5 699.7h0.7M132.1 702.7h0.7M133.3 702.1h0.7M128.2 698.7h0.7M130.4 702.1h0.7M135.8 700.0h0.7M130.2 699.5h0.7M130.4 701.5h0.7M131.6 703.2h0.7M132.1 718.4h0.7M116.1 724.6h0.7M118.0 719.9h0.7M122.2 721.5h0.7M134.0 722.4h0.7M119.7 722.7h0.7M128.3 721.6h0.7M125.7 721.7h0.7M122.9 721.8h0.7M127.8 723.9h0.7M125.8 719.8h0.7M131.2 719.8h0.7M133.8 720.7h0.7M132.2 723.2h0.7M121.4 720.9h0.7M128.4 718.6h0.7M133.7 722.1h0.7M127.2 720.5h0.7M124.7 719.8h0.7M120.8 720.9h0.7M129.6 720.2h0.7M120.1 721.3h0.7M121.6 722.7h0.7M117.8 723.8h0.7M116.6 722.4h0.7M128.8 722.0h0.7M117.5 718.3h0.7M124.5 722.6h0.7M118.5 724.3h0.7M116.4 718.6h0.7M120.2 718.0h0.7M122.9 721.4h0.7M129.0 721.6h0.7M121.6 724.8h0.7M121.7 721.8h0.7M131.1 717.8h0.7" stroke="#7479c6" stroke-width="0.7" opacity="0.65"/>
<ellipse cx="113.4" cy="721.6" rx="9" ry="3.6" fill="url(#ct)"/>
<ellipse cx="110.4" cy="721.6" rx="6.2" ry="3.8" fill="url(#cl)" transform="rotate(-10 110.4 721.6)"/>
<ellipse cx="132.3" cy="700.8" rx="3.2" ry="1.6" fill="url(#cb)" opacity="0.6"/>
<rect x="103.60" y="678.50" width="50.20" height="49.80" fill="none" stroke="#a0a0a0" stroke-width="0.8"/>
<line x1="120.30" y1="678.50" x2="120.30" y2="728.30" stroke="#7a7a7a" stroke-width="0.9"/>
<line x1="103.60" y1="710.50" x2="153.80" y2="710.50" stroke="#a8a8a8" stroke-width="1.2"/>
<path d="M102.7 723.1h1.4M102.7 717.8h1.4M102.7 712.6h1.4M102.7 707.3h1.4M102.7 702.1h1.4M102.7 696.8h1.4M102.7 691.6h1.4M102.7 686.4h1.4M102.7 681.1h1.4M106.8 728.0v1.2M110.1 728.0v1.2M113.3 728.0v1.2M116.6 728.0v1.2M119.8 728.0v1.2M123.0 728.0v1.2M126.3 728.0v1.2M129.5 728.0v1.2M132.7 728.0v1.2M136.0 728.0v1.2M139.2 728.0v1.2M142.5 728.0v1.2M145.7 728.0v1.2M148.9 728.0v1.2M152.2 728.0v1.2" stroke="#555" stroke-width="0.6"/>
<text x="103.90" y="687.50" font-size="6.9" textLength="14.60" lengthAdjust="spacingAndGlyphs" stroke="#231f20" stroke-width="0.22">0.2%</text>
<text x="139.20" y="687.50" font-size="6.9" textLength="9.30" lengthAdjust="spacingAndGlyphs" stroke="#231f20" stroke-width="0.22">4%</text>
<text x="104.20" y="717.50" font-size="6.9" textLength="19.60" lengthAdjust="spacingAndGlyphs" stroke="#231f20" stroke-width="0.22">86.8%</text>
<text x="140.40" y="717.50" font-size="6.9" textLength="9.20" lengthAdjust="spacingAndGlyphs" stroke="#231f20" stroke-width="0.22">9%</text>
<path d="M195.7 704.6h0.7M200.7 712.2h0.7M205.1 718.8h0.7M180.0 702.9h0.7M199.4 697.5h0.7M182.2 689.3h0.7M196.4 724.1h0.7M210.1 693.8h0.7M200.0 704.5h0.7M198.0 703.7h0.7M208.7 725.9h0.7M177.3 715.5h0.7M179.8 690.4h0.7M185.8 716.2h0.7M210.9 693.3h0.7M187.3 689.8h0.7M194.9 706.9h0.7M188.9 700.4h0.7M204.0 720.3h0.7M185.7 703.5h0.7M197.5 717.5h0.7M210.4 703.4h0.7M191.3 699.3h0.7M192.7 700.1h0.7M192.8 701.4h0.7M193.8 700.4h0.7M191.2 700.8h0.7M192.1 701.0h0.7M191.2 700.5h0.7M191.1 700.1h0.7M192.7 702.3h0.7M191.2 701.6h0.7M193.1 701.0h0.7M193.8 700.1h0.7M193.5 701.2h0.7M184.8 701.3h0.7M193.6 703.3h0.7M190.0 700.9h0.7M193.1 699.6h0.7M194.9 701.4h0.7M190.6 699.3h0.7M191.4 703.8h0.7M197.0 697.7h0.7M188.4 701.7h0.7M192.1 700.0h0.7M193.6 700.9h0.7M192.9 701.1h0.7M190.0 702.5h0.7M181.3 721.3h0.7M179.4 721.6h0.7M193.6 724.0h0.7M190.8 721.8h0.7M190.5 721.4h0.7M190.7 719.6h0.7M191.1 722.2h0.7M177.3 715.8h0.7M193.5 719.0h0.7M180.2 723.4h0.7M192.7 724.2h0.7M179.7 722.0h0.7M182.8 719.6h0.7M190.8 723.7h0.7M182.3 720.4h0.7M180.7 720.2h0.7M192.6 721.2h0.7M181.8 722.4h0.7M189.5 722.4h0.7M185.8 724.8h0.7M188.3 722.0h0.7M178.1 722.4h0.7M182.1 721.4h0.7M184.9 721.7h0.7M183.1 720.5h0.7M193.5 723.8h0.7M179.3 722.9h0.7M189.7 720.4h0.7M177.5 723.7h0.7M193.7 721.4h0.7M179.6 719.0h0.7M178.8 723.3h0.7M180.6 719.5h0.7M181.5 717.2h0.7M178.9 717.8h0.7M178.2 726.3h0.7" stroke="#7479c6" stroke-width="0.7" opacity="0.65"/>
<ellipse cx="173.4" cy="721.6" rx="9" ry="3.6" fill="url(#ct)"/>
<ellipse cx="170.4" cy="721.6" rx="6.2" ry="3.8" fill="url(#cl)" transform="rotate(-10 170.4 721.6)"/>
<ellipse cx="192.3" cy="700.8" rx="3.2" ry="1.6" fill="url(#cb)" opacity="0.6"/>
<rect x="163.50" y="678.80" width="49.60" height="49.50" fill="none" stroke="#a0a0a0" stroke-width="0.8"/>
<line x1="179.60" y1="678.80" x2="179.60" y2="728.30" stroke="#7a7a7a" stroke-width="0.9"/>
<line x1="163.50" y1="710.50" x2="213.10" y2="710.50" stroke="#a8a8a8" stroke-width="1.2"/>
<path d="M162.6 723.1h1.4M162.6 717.9h1.4M162.6 712.7h1.4M162.6 707.5h1.4M162.6 702.2h1.4M162.6 697.0h1.4M162.6 691.8h1.4M162.6 686.6h1.4M162.6 681.4h1.4M166.7 728.0v1.2M169.9 728.0v1.2M173.1 728.0v1.2M176.3 728.0v1.2M179.5 728.0v1.2M182.7 728.0v1.2M185.9 728.0v1.2M189.1 728.0v1.2M192.3 728.0v1.2M195.5 728.0v1.2M198.7 728.0v1.2M201.9 728.0v1.2M205.1 728.0v1.2M208.3 728.0v1.2M211.5 728.0v1.2" stroke="#555" stroke-width="0.6"/>
<text x="165.10" y="687.50" font-size="6.9" textLength="14.50" lengthAdjust="spacingAndGlyphs" stroke="#231f20" stroke-width="0.22">0.2%</text>
<text x="198.80" y="687.50" font-size="6.9" textLength="14.30" lengthAdjust="spacingAndGlyphs" stroke="#231f20" stroke-width="0.22">3.8%</text>
<text x="165.80" y="717.50" font-size="6.9" textLength="12.70" lengthAdjust="spacingAndGlyphs" stroke="#231f20" stroke-width="0.22">87%</text>
<text x="199.70" y="717.50" font-size="6.9" textLength="8.80" lengthAdjust="spacingAndGlyphs" stroke="#231f20" stroke-width="0.22">7%</text>
<path d="M259.7 702.9h0.7M260.0 696.6h0.7M259.0 722.2h0.7M267.5 712.4h0.7M255.1 710.1h0.7M241.2 720.3h0.7M261.6 705.8h0.7M260.8 704.5h0.7M250.8 697.3h0.7M258.5 710.3h0.7M255.4 689.8h0.7M259.4 705.5h0.7M258.2 711.1h0.7M270.2 694.4h0.7M253.8 726.2h0.7M263.3 700.5h0.7M263.3 726.1h0.7M251.4 721.5h0.7M241.7 726.1h0.7M254.6 697.5h0.7M266.9 713.2h0.7M270.4 720.0h0.7M252.3 699.3h0.7M252.3 700.8h0.7M253.9 699.3h0.7M251.5 703.2h0.7M248.9 701.3h0.7M252.5 700.2h0.7M250.9 702.6h0.7M254.0 701.5h0.7M252.1 699.3h0.7M251.7 703.1h0.7M253.8 699.0h0.7M246.9 699.9h0.7M251.9 700.1h0.7M250.8 701.2h0.7M253.5 701.1h0.7M254.3 699.0h0.7M252.5 701.4h0.7M248.2 702.4h0.7M248.0 698.9h0.7M257.4 702.5h0.7M252.3 702.6h0.7M254.0 699.3h0.7M252.6 702.6h0.7M251.1 700.9h0.7M250.5 701.8h0.7M250.3 700.0h0.7M248.4 722.3h0.7M239.3 721.5h0.7M250.1 721.7h0.7M239.1 722.9h0.7M254.8 721.3h0.7M240.6 721.5h0.7M255.8 721.5h0.7M243.7 719.7h0.7M242.8 721.8h0.7M248.9 723.3h0.7M245.0 723.6h0.7M245.6 720.8h0.7M246.5 724.4h0.7M250.3 722.0h0.7M241.4 721.3h0.7M253.5 721.9h0.7M242.3 724.5h0.7M245.5 720.3h0.7M254.6 720.2h0.7M248.3 724.8h0.7M245.4 724.6h0.7M242.2 723.5h0.7M245.3 724.3h0.7M250.1 722.2h0.7M249.7 722.8h0.7M239.4 724.8h0.7M253.9 722.7h0.7M243.4 724.8h0.7M252.5 724.3h0.7M247.3 720.5h0.7M238.8 723.4h0.7M243.8 722.2h0.7M244.0 722.2h0.7M243.4 719.8h0.7M254.0 723.1h0.7M248.9 722.6h0.7" stroke="#7479c6" stroke-width="0.7" opacity="0.65"/>
<ellipse cx="234.9" cy="722.7" rx="9" ry="3.6" fill="url(#ct)"/>
<ellipse cx="231.9" cy="722.7" rx="6.2" ry="3.8" fill="url(#cl)" transform="rotate(-10 231.9 722.7)"/>
<ellipse cx="251.5" cy="700.8" rx="3.2" ry="1.6" fill="url(#cb)" opacity="0.6"/>
<rect x="224.50" y="678.60" width="50.10" height="49.90" fill="none" stroke="#a0a0a0" stroke-width="0.8"/>
<line x1="241.20" y1="678.60" x2="241.20" y2="728.50" stroke="#7a7a7a" stroke-width="0.9"/>
<line x1="224.50" y1="710.70" x2="274.60" y2="710.70" stroke="#a8a8a8" stroke-width="1.2"/>
<path d="M223.6 723.2h1.4M223.6 718.0h1.4M223.6 712.7h1.4M223.6 707.5h1.4M223.6 702.2h1.4M223.6 697.0h1.4M223.6 691.7h1.4M223.6 686.5h1.4M223.6 681.2h1.4M227.7 728.2v1.2M231.0 728.2v1.2M234.2 728.2v1.2M237.4 728.2v1.2M240.7 728.2v1.2M243.9 728.2v1.2M247.1 728.2v1.2M250.4 728.2v1.2M253.6 728.2v1.2M256.8 728.2v1.2M260.1 728.2v1.2M263.3 728.2v1.2M266.5 728.2v1.2M269.8 728.2v1.2M273.0 728.2v1.2" stroke="#555" stroke-width="0.6"/>
<text x="226.20" y="687.50" font-size="6.9" textLength="15.00" lengthAdjust="spacingAndGlyphs" stroke="#231f20" stroke-width="0.22">0.5%</text>
<text x="257.30" y="687.50" font-size="6.9" textLength="14.60" lengthAdjust="spacingAndGlyphs" stroke="#231f20" stroke-width="0.22">6.3%</text>
<text x="228.50" y="717.50" font-size="6.9" textLength="13.30" lengthAdjust="spacingAndGlyphs" stroke="#231f20" stroke-width="0.22">85%</text>
<text x="259.60" y="717.50" font-size="6.9" textLength="15.00" lengthAdjust="spacingAndGlyphs" stroke="#231f20" stroke-width="0.22">8.2%</text>
<text x="297.00" y="553.20" font-size="12.6" textLength="5.80" lengthAdjust="spacingAndGlyphs" stroke-width="0.05">F</text>
<line x1="335.40" y1="579.30" x2="335.40" y2="713.20" stroke="#231f20" stroke-width="1.2"/>
<line x1="334.80" y1="712.70" x2="391.00" y2="712.70" stroke="#231f20" stroke-width="1.2"/>
<line x1="331.80" y1="582.00" x2="335.40" y2="582.00" stroke="#231f20" stroke-width="0.9"/>
<text x="330.20" y="585.00" font-size="8.4" text-anchor="end" >100</text>
<line x1="331.80" y1="608.00" x2="335.40" y2="608.00" stroke="#231f20" stroke-width="0.9"/>
<text x="330.20" y="611.00" font-size="8.4" text-anchor="end" >80</text>
<line x1="331.80" y1="634.30" x2="335.40" y2="634.30" stroke="#231f20" stroke-width="0.9"/>
<text x="330.20" y="637.30" font-size="8.4" text-anchor="end" >60</text>
<line x1="331.80" y1="660.40" x2="335.40" y2="660.40" stroke="#231f20" stroke-width="0.9"/>
<text x="330.20" y="663.40" font-size="8.4" text-anchor="end" >40</text>
<line x1="331.80" y1="686.50" x2="335.40" y2="686.50" stroke="#231f20" stroke-width="0.9"/>
<text x="330.20" y="689.50" font-size="8.4" text-anchor="end" >20</text>
<line x1="331.80" y1="712.70" x2="335.40" y2="712.70" stroke="#231f20" stroke-width="0.9"/>
<text x="330.20" y="715.70" font-size="8.4" text-anchor="end" >0</text>
<text x="312.60" y="699.60" font-size="10.2" textLength="127.50" lengthAdjust="spacingAndGlyphs" transform="rotate(-90 312.60 699.60)" >%heterozygous mutant/total</text>
<line x1="340.30" y1="585.30" x2="368.70" y2="588.70" stroke="#231f20" stroke-width="1.25"/>
<line x1="340.30" y1="660.80" x2="368.70" y2="660.40" stroke="#777" stroke-width="1.25"/>
<line x1="340.30" y1="683.80" x2="366.80" y2="663.60" stroke="#231f20" stroke-width="1.25"/>
<line x1="340.30" y1="698.20" x2="368.70" y2="710.00" stroke="#231f20" stroke-width="1.25"/>
<circle cx="340.3" cy="585.3" r="2.8" fill="#41608c"/>
<circle cx="340.3" cy="660.8" r="2.8" fill="#41608c"/>
<circle cx="340.3" cy="683.8" r="2.8" fill="#41608c"/>
<circle cx="340.3" cy="698.2" r="2.8" fill="#41608c"/>
<rect x="366.10" y="586.10" width="5.20" height="5.20" fill="#a03243" />
<rect x="366.10" y="657.80" width="5.20" height="5.20" fill="#a03243" />
<rect x="364.20" y="661.00" width="5.20" height="5.20" fill="#a03243" />
<rect x="366.10" y="707.40" width="5.20" height="5.20" fill="#a03243" />
<text x="380.00" y="590.80" font-size="8" textLength="18.90" lengthAdjust="spacingAndGlyphs" >UPN2</text>
<text x="380.00" y="656.60" font-size="8" textLength="19.00" lengthAdjust="spacingAndGlyphs" >UPN8</text>
<text x="380.00" y="676.30" font-size="8" textLength="23.50" lengthAdjust="spacingAndGlyphs" >UPN10</text>
<text x="380.00" y="706.30" font-size="8" textLength="19.00" lengthAdjust="spacingAndGlyphs" >UPN9</text>
<line x1="414.30" y1="610.40" x2="427.70" y2="610.40" stroke="#231f20" stroke-width="1"/>
<circle cx="421.2" cy="610.4" r="2.7" fill="#41608c"/>
<text x="431.80" y="613.30" font-size="8" textLength="22.40" lengthAdjust="spacingAndGlyphs" >DMSO</text>
<line x1="414.30" y1="623.50" x2="427.70" y2="623.50" stroke="#231f20" stroke-width="1"/>
<rect x="418.70" y="621.00" width="5.00" height="5.00" fill="#a03243" />
<text x="431.80" y="626.40" font-size="8" textLength="64.00" lengthAdjust="spacingAndGlyphs" >Palbociclib 100nM</text>
<rect x="0" y="0" width="520" height="1" fill="#111"/>
<rect x="0" y="752" width="520" height="1" fill="#111"/>
<rect x="0" y="0" width="1" height="753" fill="#555"/>
<rect x="1" y="0" width="1" height="753" fill="#999"/>
<rect x="519" y="0" width="1" height="753" fill="#555"/>
<rect x="518" y="0" width="1" height="753" fill="#888"/>
</svg></body></html>
